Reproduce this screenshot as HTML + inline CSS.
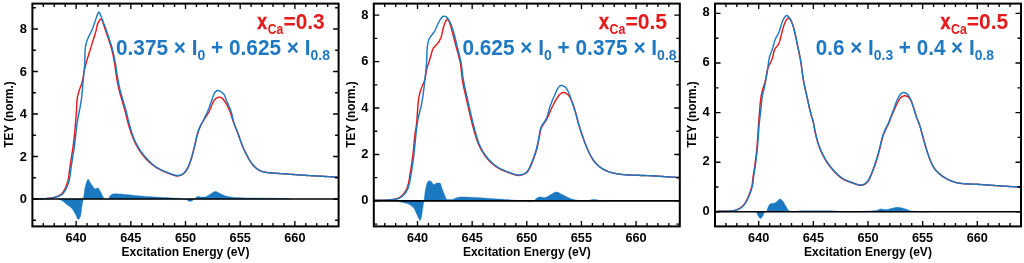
<!DOCTYPE html>
<html lang="en"><head><meta charset="utf-8"><title>XAS linear combination fits</title>
<style>html,body{margin:0;padding:0;background:#fff;}body{width:1024px;height:263px;overflow:hidden;}svg{display:block;}text{font-family:"Liberation Sans", Arial, Helvetica, sans-serif;font-weight:bold;}</style></head><body>
<svg width="1024" height="263" viewBox="0 0 1024 263">
<rect width="1024" height="263" fill="#fff"/>
<g id="panel1">
<path d="M58.3,199.0 L58.9,199.2 L59.5,199.4 L60.0,199.6 L60.6,199.9 L61.1,200.1 L61.6,200.4 L62.1,200.7 L62.6,201.0 L63.1,201.4 L63.6,201.8 L64.0,202.2 L64.5,202.6 L64.9,203.0 L65.4,203.4 L65.8,203.8 L66.3,204.1 L66.8,204.5 L67.3,204.9 L67.8,205.2 L68.3,205.6 L68.8,205.9 L69.3,206.3 L69.8,206.7 L70.2,207.0 L70.7,207.4 L71.1,207.8 L71.6,208.2 L71.9,208.6 L72.3,209.1 L72.7,209.5 L73.0,210.0 L73.3,210.5 L73.6,211.0 L73.9,211.6 L74.2,212.1 L74.5,212.6 L74.8,213.2 L75.1,213.7 L75.4,214.2 L75.7,214.8 L76.0,215.3 L76.3,215.9 L76.5,216.6 L76.8,217.3 L77.1,218.0 L77.3,218.6 L77.6,219.1 L78.0,219.4 L78.3,219.5 L78.7,219.3 L79.2,218.8 L79.6,218.3 L79.9,217.8 L80.2,217.2 L80.4,216.7 L80.5,216.1 L80.7,215.5 L80.8,214.9 L80.9,214.3 L81.0,213.7 L81.1,213.1 L81.2,212.5 L81.2,211.9 L81.3,211.3 L81.4,210.7 L81.4,210.1 L81.5,209.5 L81.6,208.9 L81.6,208.3 L81.7,207.7 L81.8,207.1 L81.9,206.6 L82.0,206.0 L82.1,205.4 L82.2,204.8 L82.3,204.2 L82.4,203.6 L82.5,203.0 L82.6,202.4 L82.8,201.8 L82.9,201.2 L83.0,200.7 L83.1,200.1 L83.2,199.5 L83.3,198.9 L83.4,198.3 L83.5,197.7 L83.6,197.1 L83.7,196.5 L83.8,195.9 L83.9,195.3 L83.9,194.7 L84.0,194.1 L84.1,193.5 L84.2,192.9 L84.3,192.4 L84.4,191.8 L84.5,191.2 L84.5,190.6 L84.6,190.0 L84.7,189.4 L84.8,188.8 L85.0,188.2 L85.1,187.6 L85.2,187.0 L85.3,186.4 L85.5,185.9 L85.6,185.3 L85.7,184.7 L85.9,184.1 L86.1,183.5 L86.3,183.0 L86.5,182.4 L86.7,181.8 L86.9,181.2 L87.2,180.5 L87.5,179.9 L87.8,179.4 L88.1,179.3 L88.4,179.4 L88.8,179.8 L89.1,180.4 L89.4,181.0 L89.7,181.7 L90.1,182.3 L90.4,182.8 L90.7,183.3 L91.0,183.8 L91.4,184.3 L91.7,184.9 L92.0,185.3 L92.4,185.8 L92.7,186.3 L93.1,186.8 L93.5,187.4 L93.9,187.9 L94.4,188.4 L94.8,188.7 L95.3,188.7 L95.9,188.6 L96.5,188.4 L97.1,188.1 L97.6,188.0 L98.1,188.1 L98.5,188.4 L98.9,188.9 L99.3,189.4 L99.6,190.0 L100.0,190.7 L100.3,191.2 L100.6,191.7 L100.9,192.2 L101.1,192.8 L101.4,193.3 L101.6,193.9 L101.9,194.4 L102.1,195.0 L102.4,195.5 L102.7,196.0 L103.0,196.6 L103.3,197.2 L103.6,197.9 L103.9,198.5 L104.3,198.9 L104.7,199.0 L105.2,199.0 L105.8,199.0 L106.5,199.0 L107.1,199.0 L107.7,199.0 L108.1,198.9 L108.5,198.6 L108.9,198.1 L109.2,197.5 L109.5,196.9 L109.8,196.2 L110.2,195.6 L110.6,195.2 L111.0,194.9 L111.5,194.6 L112.1,194.3 L112.7,194.1 L113.3,193.9 L113.9,193.8 L114.5,193.8 L115.1,193.8 L115.6,193.8 L116.2,193.8 L116.8,193.8 L117.4,193.8 L118.0,193.9 L118.6,193.9 L119.2,193.9 L119.8,194.0 L120.4,194.0 L121.0,194.1 L121.6,194.1 L122.2,194.2 L122.8,194.2 L123.4,194.3 L124.0,194.4 L124.7,194.4 L125.3,194.5 L125.9,194.5 L126.4,194.6 L127.0,194.6 L127.6,194.7 L128.2,194.7 L128.8,194.8 L129.4,194.8 L130.0,194.9 L130.6,195.0 L131.2,195.0 L131.8,195.1 L132.4,195.2 L133.0,195.2 L133.6,195.3 L134.2,195.3 L134.8,195.4 L135.4,195.5 L136.0,195.5 L136.6,195.6 L137.2,195.7 L137.8,195.7 L138.4,195.8 L139.0,195.8 L139.6,195.9 L140.2,195.9 L140.8,196.0 L141.4,196.0 L142.0,196.1 L142.6,196.1 L143.2,196.2 L143.8,196.2 L144.4,196.3 L145.0,196.3 L145.6,196.4 L146.2,196.4 L146.8,196.4 L147.4,196.5 L148.0,196.5 L148.6,196.6 L149.2,196.6 L149.8,196.6 L150.4,196.7 L151.0,196.7 L151.5,196.7 L152.1,196.8 L152.7,196.8 L153.3,196.8 L153.9,196.9 L154.5,196.9 L155.1,197.0 L155.7,197.0 L156.3,197.0 L156.9,197.1 L157.5,197.1 L158.1,197.1 L158.7,197.2 L159.3,197.2 L159.9,197.2 L160.5,197.3 L161.1,197.3 L161.7,197.3 L162.3,197.4 L162.9,197.4 L163.5,197.4 L164.1,197.5 L164.7,197.5 L165.3,197.5 L165.9,197.5 L166.5,197.6 L167.1,197.6 L167.7,197.6 L168.3,197.7 L168.9,197.7 L169.5,197.8 L170.1,197.8 L170.7,197.8 L171.3,197.9 L171.9,197.9 L172.5,197.9 L173.1,198.0 L173.7,198.0 L174.3,198.1 L174.9,198.1 L175.5,198.2 L176.1,198.2 L176.7,198.2 L177.3,198.3 L177.9,198.3 L178.5,198.4 L179.1,198.4 L179.7,198.5 L180.3,198.6 L180.9,198.6 L181.5,198.7 L182.1,198.8 L182.7,198.8 L183.3,198.9 L183.9,199.0 L184.5,199.1 L185.0,199.3 L185.6,199.4 L186.2,199.6 L186.7,199.9 L187.3,200.2 L187.9,200.5 L188.4,200.9 L188.9,201.1 L189.5,201.4 L190.0,201.5 L190.5,201.5 L191.1,201.3 L191.6,201.1 L192.1,200.8 L192.6,200.4 L193.1,199.9 L193.6,199.5 L194.1,199.1 L194.6,198.8 L195.1,198.4 L195.6,197.9 L196.1,197.5 L196.5,197.1 L197.0,196.7 L197.5,196.4 L198.0,196.3 L198.6,196.3 L199.1,196.5 L199.7,196.7 L200.3,196.9 L200.9,197.0 L201.5,197.0 L202.1,197.0 L202.7,197.0 L203.3,197.0 L203.9,197.0 L204.5,197.0 L205.1,197.0 L205.6,196.8 L206.2,196.6 L206.7,196.4 L207.2,196.1 L207.7,195.8 L208.3,195.4 L208.8,195.0 L209.3,194.7 L209.8,194.3 L210.4,194.0 L210.9,193.7 L211.4,193.4 L212.0,193.0 L212.5,192.7 L213.0,192.3 L213.6,192.0 L214.1,191.8 L214.6,191.6 L215.2,191.5 L215.7,191.5 L216.3,191.6 L216.8,191.8 L217.4,192.0 L217.9,192.3 L218.5,192.6 L219.1,192.9 L219.6,193.2 L220.2,193.5 L220.7,193.7 L221.3,194.0 L221.8,194.2 L222.4,194.5 L222.9,194.7 L223.5,195.0 L224.1,195.2 L224.6,195.4 L225.2,195.7 L225.7,195.9 L226.3,196.1 L226.9,196.2 L227.4,196.3 L228.0,196.5 L228.6,196.6 L229.2,196.7 L229.8,196.8 L230.4,196.9 L231.0,197.0 L231.6,197.1 L232.2,197.2 L232.8,197.2 L233.4,197.3 L234.0,197.4 L234.6,197.4 L235.2,197.5 L235.8,197.5 L236.4,197.5 L237.0,197.6 L237.6,197.6 L238.2,197.6 L238.7,197.7 L239.3,197.7 L239.9,197.7 L240.5,197.7 L241.1,197.7 L241.7,197.8 L242.3,197.8 L242.9,197.8 L243.5,197.8 L244.1,197.8 L244.7,197.9 L245.3,197.9 L245.9,197.9 L246.5,197.9 L247.2,197.9 L247.8,197.9 L248.4,198.0 L249.0,198.0 L249.6,198.0 L250.2,198.0 L250.8,198.0 L251.4,198.0 L252.0,198.0 L252.6,198.0 L253.2,198.0 L253.8,198.0 L254.4,198.1 L255.0,198.1 L255.6,198.1 L256.2,198.1 L256.8,198.1 L257.4,198.1 L258.0,198.1 L258.6,198.1 L259.2,198.1 L259.8,198.1 L260.4,198.1 L261.0,198.1 L261.6,198.1 L262.2,198.1 L262.8,198.1 L263.4,198.1 L264.0,198.2 L264.6,198.2 L265.2,198.2 L265.8,198.2 L266.4,198.2 L267.0,198.2 L267.6,198.2 L268.2,198.2 L268.8,198.2 L269.4,198.2 L270.0,198.2 L270.6,198.2 L271.2,198.2 L271.8,198.2 L272.4,198.2 L273.0,198.2 L273.6,198.3 L274.2,198.3 L274.8,198.3 L275.4,198.3 L276.0,198.3 L276.6,198.3 L277.1,198.3 L277.7,198.3 L278.3,198.4 L278.9,198.4 L279.5,198.4 L280.1,198.4 L280.7,198.5 L281.3,198.5 L281.9,198.5 L282.5,198.5 L283.1,198.6 L283.7,198.6 L284.3,198.6 L284.9,198.7 L285.5,198.7 L286.1,198.7 L286.7,198.8 L287.3,198.8 L287.9,198.8 L288.5,198.9 L289.1,198.9 L289.7,198.9 L290.3,199.0 L290.8,199.0 L290.8,199.0 L58.3,199.0 Z" fill="#1b79c2" stroke="#1b79c2" stroke-width="0.4"/>
<clipPath id="c0"><rect x="32.4" y="3.6" width="306.2" height="222.8"/></clipPath>
<g clip-path="url(#c0)" fill="none" stroke-linejoin="round" stroke-linecap="round">
<path d="M33.2,198.8 L33.8,198.8 L34.4,198.8 L35.0,198.8 L35.6,198.7 L36.2,198.7 L36.8,198.7 L37.4,198.7 L38.0,198.7 L38.6,198.7 L39.2,198.7 L39.8,198.7 L40.4,198.7 L41.0,198.7 L41.6,198.7 L42.2,198.7 L42.8,198.6 L43.4,198.6 L44.0,198.6 L44.6,198.6 L45.2,198.6 L45.8,198.6 L46.4,198.5 L47.0,198.5 L47.6,198.4 L48.2,198.4 L48.8,198.3 L49.4,198.3 L50.0,198.2 L50.6,198.1 L51.2,198.0 L51.8,197.9 L52.4,197.8 L52.9,197.7 L53.5,197.5 L54.1,197.4 L54.7,197.2 L55.3,197.0 L55.8,196.8 L56.4,196.6 L57.0,196.4 L57.5,196.2 L58.1,196.0 L58.6,195.8 L59.2,195.5 L59.7,195.2 L60.2,194.9 L60.7,194.6 L61.2,194.2 L61.6,193.8 L62.0,193.4 L62.4,192.9 L62.8,192.4 L63.2,191.9 L63.5,191.4 L63.8,190.9 L64.1,190.4 L64.4,189.9 L64.7,189.3 L64.9,188.8 L65.2,188.2 L65.4,187.7 L65.7,187.1 L65.9,186.6 L66.1,186.0 L66.3,185.5 L66.5,184.9 L66.7,184.3 L66.9,183.8 L67.2,183.2 L67.3,182.6 L67.5,182.1 L67.7,181.5 L67.9,180.9 L68.0,180.3 L68.2,179.7 L68.3,179.2 L68.4,178.6 L68.5,178.0 L68.6,177.4 L68.7,176.8 L68.8,176.2 L68.9,175.6 L68.9,175.0 L69.0,174.4 L69.1,173.8 L69.2,173.2 L69.2,172.6 L69.3,172.0 L69.4,171.4 L69.4,170.8 L69.5,170.2 L69.6,169.6 L69.7,169.1 L69.8,168.5 L69.8,167.9 L69.9,167.3 L70.0,166.7 L70.1,166.1 L70.2,165.5 L70.3,164.9 L70.4,164.3 L70.4,163.7 L70.5,163.1 L70.6,162.5 L70.7,161.9 L70.8,161.3 L70.9,160.7 L71.0,160.1 L71.1,159.5 L71.2,159.0 L71.3,158.4 L71.4,157.8 L71.5,157.2 L71.6,156.6 L71.7,156.0 L71.8,155.4 L71.9,154.8 L71.9,154.2 L72.0,153.6 L72.1,153.0 L72.2,152.4 L72.3,151.8 L72.4,151.3 L72.5,150.7 L72.6,150.1 L72.7,149.5 L72.8,148.9 L72.8,148.3 L72.9,147.7 L73.0,147.1 L73.1,146.5 L73.2,145.9 L73.3,145.3 L73.3,144.7 L73.4,144.1 L73.5,143.5 L73.6,142.9 L73.6,142.3 L73.7,141.8 L73.8,141.2 L73.8,140.6 L73.9,140.0 L74.0,139.4 L74.0,138.8 L74.1,138.2 L74.2,137.6 L74.2,137.0 L74.3,136.4 L74.4,135.8 L74.4,135.2 L74.5,134.6 L74.6,134.0 L74.6,133.4 L74.7,132.8 L74.7,132.2 L74.8,131.6 L74.8,131.0 L74.9,130.4 L75.0,129.8 L75.0,129.2 L75.1,128.6 L75.1,128.0 L75.2,127.4 L75.2,126.8 L75.3,126.2 L75.3,125.6 L75.4,125.0 L75.4,124.4 L75.5,123.8 L75.5,123.2 L75.6,122.6 L75.6,122.0 L75.7,121.4 L75.7,120.8 L75.8,120.2 L75.8,119.6 L75.9,119.1 L75.9,118.5 L76.0,117.9 L76.0,117.3 L76.1,116.7 L76.1,116.1 L76.1,115.5 L76.2,114.9 L76.2,114.3 L76.3,113.7 L76.3,113.1 L76.4,112.5 L76.4,111.9 L76.4,111.3 L76.5,110.7 L76.5,110.1 L76.5,109.5 L76.6,108.9 L76.6,108.3 L76.6,107.7 L76.6,107.1 L76.7,106.5 L76.7,105.9 L76.7,105.3 L76.8,104.7 L76.8,104.1 L76.8,103.5 L76.9,102.9 L76.9,102.3 L76.9,101.7 L77.0,101.1 L77.1,100.5 L77.1,99.9 L77.2,99.3 L77.3,98.7 L77.3,98.1 L77.4,97.5 L77.5,96.9 L77.7,96.3 L77.8,95.7 L77.9,95.2 L78.0,94.6 L78.2,94.0 L78.3,93.4 L78.5,92.8 L78.6,92.2 L78.8,91.7 L79.0,91.1 L79.2,90.5 L79.3,90.0 L79.6,89.4 L79.8,88.8 L80.0,88.3 L80.2,87.7 L80.4,87.1 L80.6,86.6 L80.8,86.0 L81.0,85.4 L81.2,84.9 L81.4,84.3 L81.6,83.7 L81.8,83.2 L82.0,82.6 L82.1,82.0 L82.3,81.4 L82.4,80.9 L82.5,80.3 L82.7,79.7 L82.8,79.1 L82.9,78.5 L83.0,77.9 L83.1,77.3 L83.2,76.7 L83.3,76.2 L83.4,75.6 L83.5,75.0 L83.6,74.4 L83.7,73.8 L83.8,73.2 L83.9,72.6 L84.1,72.0 L84.2,71.4 L84.3,70.8 L84.4,70.2 L84.5,69.6 L84.6,69.1 L84.8,68.5 L84.9,67.9 L85.0,67.3 L85.2,66.7 L85.3,66.1 L85.5,65.6 L85.6,65.0 L85.8,64.4 L85.9,63.8 L86.1,63.2 L86.2,62.7 L86.4,62.1 L86.6,61.5 L86.7,61.0 L86.9,60.4 L87.0,59.8 L87.2,59.3 L87.4,58.7 L87.6,58.1 L87.7,57.6 L87.9,57.0 L88.1,56.4 L88.3,55.9 L88.5,55.3 L88.6,54.8 L88.8,54.2 L89.0,53.6 L89.2,53.1 L89.3,52.5 L89.5,51.9 L89.7,51.4 L89.9,50.8 L90.0,50.2 L90.2,49.7 L90.4,49.1 L90.5,48.5 L90.7,48.0 L90.9,47.4 L91.0,46.8 L91.2,46.3 L91.4,45.7 L91.6,45.1 L91.8,44.5 L91.9,44.0 L92.1,43.4 L92.3,42.8 L92.5,42.2 L92.7,41.7 L92.8,41.1 L93.0,40.5 L93.2,39.9 L93.4,39.4 L93.6,38.8 L93.8,38.2 L94.0,37.6 L94.1,37.1 L94.3,36.5 L94.5,35.9 L94.7,35.3 L94.9,34.8 L95.0,34.2 L95.2,33.6 L95.4,33.0 L95.5,32.5 L95.7,31.9 L95.9,31.3 L96.0,30.7 L96.2,30.2 L96.3,29.6 L96.4,29.0 L96.5,28.5 L96.7,27.9 L96.8,27.3 L96.9,26.7 L97.0,26.2 L97.2,25.6 L97.3,25.0 L97.5,24.4 L97.7,23.8 L97.9,23.2 L98.2,22.7 L98.5,22.1 L98.8,21.4 L99.2,20.8 L99.6,20.2 L100.0,19.7 L100.4,19.4 L100.7,19.1 L101.1,19.1 L101.4,19.3 L101.7,19.6 L102.0,20.0 L102.2,20.5 L102.5,21.2 L102.7,21.8 L103.0,22.6 L103.2,23.3 L103.4,24.0 L103.7,24.7 L103.9,25.4 L104.1,26.1 L104.3,26.7 L104.5,27.3 L104.7,27.9 L104.9,28.5 L105.1,29.1 L105.3,29.7 L105.5,30.3 L105.7,30.9 L105.9,31.5 L106.1,32.0 L106.3,32.6 L106.5,33.1 L106.7,33.7 L106.9,34.2 L107.1,34.8 L107.3,35.3 L107.4,35.9 L107.6,36.4 L107.8,36.9 L108.0,37.5 L108.2,38.0 L108.3,38.5 L108.5,39.1 L108.7,39.6 L108.9,40.2 L109.1,40.7 L109.3,41.3 L109.4,41.8 L109.6,42.4 L109.8,42.9 L110.0,43.5 L110.2,44.1 L110.3,44.6 L110.5,45.2 L110.7,45.8 L110.9,46.4 L111.0,47.0 L111.2,47.6 L111.4,48.1 L111.5,48.7 L111.7,49.3 L111.9,49.9 L112.0,50.5 L112.2,51.1 L112.3,51.7 L112.5,52.3 L112.6,52.9 L112.7,53.5 L112.9,54.0 L113.0,54.6 L113.1,55.2 L113.2,55.8 L113.3,56.4 L113.5,57.0 L113.6,57.6 L113.7,58.2 L113.8,58.8 L113.9,59.4 L114.0,60.0 L114.1,60.6 L114.2,61.2 L114.3,61.8 L114.4,62.4 L114.5,62.9 L114.7,63.5 L114.8,64.1 L114.8,64.7 L114.9,65.3 L115.0,65.9 L115.1,66.5 L115.2,67.1 L115.2,67.7 L115.3,68.3 L115.4,68.9 L115.5,69.5 L115.6,70.1 L115.6,70.7 L115.7,71.3 L115.8,71.9 L115.9,72.5 L116.0,73.1 L116.1,73.6 L116.2,74.2 L116.2,74.8 L116.3,75.4 L116.4,76.0 L116.5,76.6 L116.6,77.2 L116.7,77.8 L116.8,78.4 L116.9,79.0 L117.0,79.6 L117.1,80.2 L117.2,80.8 L117.3,81.4 L117.4,81.9 L117.5,82.5 L117.6,83.1 L117.7,83.7 L117.9,84.3 L118.0,84.9 L118.1,85.5 L118.2,86.1 L118.4,86.6 L118.5,87.2 L118.6,87.8 L118.8,88.4 L118.9,89.0 L119.0,89.6 L119.2,90.2 L119.3,90.7 L119.5,91.3 L119.6,91.9 L119.8,92.5 L119.9,93.1 L120.1,93.6 L120.2,94.2 L120.4,94.8 L120.6,95.4 L120.7,96.0 L120.9,96.5 L121.1,97.1 L121.2,97.7 L121.4,98.3 L121.5,98.8 L121.7,99.4 L121.9,100.0 L122.0,100.6 L122.2,101.1 L122.4,101.7 L122.6,102.3 L122.7,102.9 L122.9,103.4 L123.1,104.0 L123.2,104.6 L123.4,105.2 L123.6,105.7 L123.8,106.3 L123.9,106.9 L124.1,107.5 L124.3,108.0 L124.4,108.6 L124.6,109.2 L124.7,109.8 L124.9,110.4 L125.0,110.9 L125.2,111.5 L125.3,112.1 L125.5,112.7 L125.6,113.3 L125.8,113.9 L125.9,114.4 L126.1,115.0 L126.2,115.6 L126.3,116.2 L126.5,116.8 L126.6,117.4 L126.8,117.9 L126.9,118.5 L127.1,119.1 L127.2,119.7 L127.3,120.3 L127.5,120.8 L127.6,121.4 L127.8,122.0 L128.0,122.6 L128.1,123.2 L128.3,123.7 L128.4,124.3 L128.6,124.9 L128.8,125.5 L128.9,126.1 L129.1,126.6 L129.3,127.2 L129.5,127.8 L129.6,128.3 L129.8,128.9 L130.0,129.5 L130.2,130.1 L130.4,130.6 L130.6,131.2 L130.7,131.8 L130.9,132.3 L131.1,132.9 L131.3,133.5 L131.5,134.0 L131.8,134.6 L132.0,135.2 L132.2,135.7 L132.4,136.3 L132.6,136.8 L132.8,137.4 L133.1,138.0 L133.3,138.5 L133.5,139.1 L133.8,139.6 L134.0,140.2 L134.2,140.7 L134.5,141.3 L134.7,141.8 L135.0,142.4 L135.2,142.9 L135.5,143.4 L135.8,144.0 L136.0,144.5 L136.3,145.0 L136.6,145.6 L136.9,146.1 L137.2,146.6 L137.5,147.1 L137.8,147.7 L138.1,148.2 L138.4,148.7 L138.7,149.2 L139.0,149.7 L139.4,150.2 L139.7,150.7 L140.0,151.2 L140.4,151.7 L140.7,152.2 L141.0,152.7 L141.4,153.2 L141.8,153.7 L142.1,154.2 L142.5,154.7 L142.9,155.1 L143.2,155.6 L143.6,156.1 L144.0,156.5 L144.4,157.0 L144.8,157.5 L145.2,157.9 L145.6,158.3 L146.0,158.8 L146.4,159.2 L146.8,159.7 L147.2,160.1 L147.6,160.5 L148.1,161.0 L148.5,161.4 L148.9,161.8 L149.4,162.2 L149.8,162.6 L150.3,163.0 L150.8,163.4 L151.2,163.8 L151.7,164.2 L152.2,164.6 L152.6,164.9 L153.1,165.3 L153.6,165.7 L154.1,166.0 L154.6,166.4 L155.1,166.7 L155.5,167.0 L156.0,167.3 L156.5,167.7 L157.1,168.0 L157.6,168.3 L158.1,168.6 L158.6,168.8 L159.1,169.1 L159.6,169.4 L160.2,169.7 L160.7,170.0 L161.2,170.2 L161.8,170.5 L162.3,170.7 L162.9,171.0 L163.4,171.2 L164.0,171.5 L164.5,171.7 L165.1,172.0 L165.7,172.2 L166.2,172.4 L166.8,172.7 L167.3,172.9 L167.9,173.1 L168.5,173.3 L169.0,173.5 L169.6,173.7 L170.2,174.0 L170.7,174.2 L171.3,174.4 L171.9,174.6 L172.5,174.8 L173.0,175.0 L173.6,175.2 L174.2,175.4 L174.8,175.5 L175.4,175.7 L176.0,175.8 L176.5,175.9 L177.1,175.9 L177.7,175.9 L178.3,175.9 L178.9,175.8 L179.5,175.6 L180.1,175.4 L180.7,175.2 L181.2,175.0 L181.8,174.8 L182.3,174.5 L182.8,174.2 L183.3,173.8 L183.8,173.5 L184.2,173.0 L184.7,172.6 L185.1,172.1 L185.5,171.7 L185.8,171.2 L186.2,170.7 L186.5,170.3 L186.8,169.8 L187.1,169.3 L187.4,168.8 L187.7,168.2 L188.0,167.7 L188.2,167.2 L188.5,166.6 L188.7,166.1 L189.0,165.5 L189.2,164.9 L189.4,164.4 L189.6,163.8 L189.8,163.2 L190.0,162.6 L190.2,162.1 L190.4,161.5 L190.6,160.9 L190.8,160.3 L191.0,159.7 L191.2,159.1 L191.3,158.6 L191.5,158.0 L191.7,157.4 L191.8,156.8 L192.0,156.3 L192.2,155.7 L192.3,155.1 L192.5,154.5 L192.7,153.9 L192.8,153.4 L193.0,152.8 L193.1,152.2 L193.3,151.6 L193.4,151.0 L193.6,150.5 L193.7,149.9 L193.9,149.3 L194.0,148.7 L194.2,148.1 L194.3,147.6 L194.4,147.0 L194.6,146.4 L194.7,145.8 L194.9,145.2 L195.0,144.6 L195.1,144.1 L195.3,143.5 L195.4,142.9 L195.5,142.3 L195.7,141.7 L195.8,141.1 L195.9,140.5 L196.1,140.0 L196.2,139.4 L196.3,138.8 L196.5,138.2 L196.6,137.6 L196.8,137.0 L196.9,136.5 L197.1,135.9 L197.2,135.3 L197.4,134.7 L197.5,134.1 L197.7,133.6 L197.9,133.0 L198.0,132.4 L198.2,131.8 L198.4,131.3 L198.6,130.7 L198.8,130.1 L199.0,129.6 L199.2,129.0 L199.4,128.5 L199.7,127.9 L199.9,127.3 L200.2,126.8 L200.4,126.3 L200.7,125.7 L200.9,125.2 L201.2,124.6 L201.5,124.1 L201.8,123.6 L202.1,123.1 L202.4,122.5 L202.7,122.0 L203.0,121.5 L203.3,121.0 L203.6,120.5 L203.9,120.0 L204.2,119.5 L204.5,118.9 L204.9,118.4 L205.2,117.9 L205.5,117.4 L205.8,116.9 L206.1,116.4 L206.5,115.9 L206.8,115.4 L207.1,114.9 L207.4,114.4 L207.7,113.8 L208.0,113.3 L208.3,112.8 L208.6,112.3 L208.9,111.8 L209.2,111.2 L209.5,110.7 L209.7,110.2 L210.0,109.6 L210.2,109.1 L210.5,108.5 L210.7,107.9 L210.9,107.4 L211.1,106.8 L211.3,106.2 L211.6,105.7 L211.8,105.1 L212.0,104.6 L212.2,104.0 L212.5,103.4 L212.7,102.9 L213.0,102.4 L213.3,101.8 L213.6,101.3 L213.9,100.8 L214.2,100.4 L214.6,99.9 L215.0,99.4 L215.4,99.0 L215.8,98.6 L216.3,98.2 L216.8,97.9 L217.4,97.6 L217.9,97.3 L218.5,97.1 L219.1,97.1 L219.7,97.2 L220.3,97.3 L220.9,97.5 L221.4,97.8 L221.9,98.1 L222.4,98.4 L222.8,98.8 L223.2,99.3 L223.6,99.7 L224.0,100.2 L224.3,100.7 L224.7,101.3 L225.0,101.8 L225.3,102.3 L225.6,102.8 L226.0,103.3 L226.3,103.8 L226.6,104.4 L226.9,104.9 L227.2,105.4 L227.4,105.9 L227.7,106.5 L228.0,107.0 L228.3,107.5 L228.5,108.1 L228.8,108.6 L229.0,109.2 L229.3,109.7 L229.5,110.3 L229.7,110.8 L229.9,111.4 L230.2,111.9 L230.4,112.5 L230.6,113.0 L230.8,113.6 L230.9,114.2 L231.1,114.8 L231.3,115.3 L231.5,115.9 L231.7,116.5 L231.8,117.1 L232.0,117.6 L232.2,118.2 L232.4,118.8 L232.6,119.4 L232.7,119.9 L232.9,120.5 L233.1,121.1 L233.3,121.6 L233.5,122.2 L233.7,122.8 L233.9,123.3 L234.1,123.9 L234.3,124.5 L234.6,125.0 L234.8,125.6 L235.0,126.1 L235.2,126.7 L235.5,127.2 L235.7,127.8 L235.9,128.3 L236.2,128.9 L236.4,129.5 L236.6,130.0 L236.8,130.6 L237.1,131.1 L237.3,131.7 L237.5,132.2 L237.7,132.8 L237.9,133.4 L238.1,133.9 L238.3,134.5 L238.5,135.1 L238.7,135.6 L238.9,136.2 L239.1,136.8 L239.3,137.3 L239.5,137.9 L239.7,138.5 L239.9,139.0 L240.1,139.6 L240.3,140.2 L240.5,140.7 L240.7,141.3 L240.9,141.9 L241.1,142.4 L241.3,143.0 L241.5,143.5 L241.7,144.1 L242.0,144.7 L242.2,145.2 L242.4,145.8 L242.6,146.3 L242.9,146.9 L243.1,147.4 L243.3,148.0 L243.6,148.5 L243.8,149.1 L244.1,149.6 L244.3,150.2 L244.6,150.7 L244.8,151.3 L245.1,151.8 L245.4,152.3 L245.6,152.9 L245.9,153.4 L246.2,154.0 L246.4,154.5 L246.7,155.0 L247.0,155.6 L247.3,156.1 L247.6,156.6 L247.8,157.2 L248.1,157.7 L248.4,158.2 L248.7,158.8 L249.0,159.3 L249.3,159.8 L249.6,160.3 L249.9,160.9 L250.3,161.4 L250.6,161.9 L250.9,162.4 L251.3,162.9 L251.6,163.3 L252.0,163.8 L252.4,164.3 L252.7,164.7 L253.1,165.2 L253.5,165.6 L254.0,166.0 L254.4,166.5 L254.8,166.9 L255.3,167.3 L255.8,167.7 L256.2,168.1 L256.7,168.5 L257.2,168.9 L257.7,169.3 L258.2,169.6 L258.7,169.9 L259.2,170.3 L259.8,170.5 L260.3,170.8 L260.8,171.0 L261.4,171.3 L261.9,171.4 L262.5,171.6 L263.0,171.8 L263.6,171.9 L264.2,172.0 L264.7,172.2 L265.3,172.3 L265.9,172.4 L266.5,172.5 L267.1,172.5 L267.7,172.6 L268.3,172.7 L268.9,172.8 L269.5,172.8 L270.1,172.9 L270.7,172.9 L271.3,173.0 L271.9,173.0 L272.6,173.0 L273.2,173.1 L273.8,173.1 L274.4,173.2 L275.0,173.2 L275.6,173.2 L276.2,173.3 L276.8,173.3 L277.4,173.4 L278.0,173.4 L278.6,173.4 L279.2,173.5 L279.8,173.5 L280.4,173.6 L281.0,173.6 L281.6,173.6 L282.2,173.7 L282.8,173.7 L283.4,173.8 L284.0,173.8 L284.6,173.8 L285.2,173.9 L285.8,173.9 L286.4,174.0 L287.0,174.0 L287.6,174.1 L288.2,174.1 L288.8,174.1 L289.4,174.2 L290.0,174.2 L290.6,174.3 L291.2,174.3 L291.8,174.4 L292.4,174.4 L293.0,174.4 L293.6,174.5 L294.2,174.5 L294.8,174.6 L295.4,174.6 L296.0,174.7 L296.6,174.7 L297.2,174.7 L297.8,174.8 L298.4,174.8 L299.0,174.9 L299.6,174.9 L300.2,175.0 L300.7,175.0 L301.3,175.0 L301.9,175.1 L302.5,175.1 L303.1,175.2 L303.7,175.2 L304.3,175.2 L304.9,175.3 L305.5,175.3 L306.1,175.4 L306.7,175.4 L307.3,175.4 L307.9,175.5 L308.5,175.5 L309.1,175.5 L309.7,175.6 L310.3,175.6 L310.9,175.6 L311.5,175.7 L312.1,175.7 L312.7,175.7 L313.3,175.8 L313.9,175.8 L314.5,175.8 L315.1,175.9 L315.7,175.9 L316.3,175.9 L316.9,176.0 L317.5,176.0 L318.1,176.0 L318.7,176.1 L319.3,176.1 L319.9,176.1 L320.5,176.2 L321.1,176.2 L321.7,176.2 L322.3,176.3 L322.9,176.3 L323.5,176.3 L324.1,176.4 L324.7,176.4 L325.3,176.4 L325.9,176.5 L326.5,176.5 L327.1,176.5 L327.7,176.6 L328.3,176.6 L328.9,176.6 L329.5,176.6 L330.1,176.7 L330.7,176.7 L331.3,176.7 L331.9,176.8 L332.5,176.8 L333.1,176.8 L333.7,176.9 L334.3,176.9 L334.9,176.9 L335.5,177.0 L336.1,177.0 L336.7,177.1 L337.3,177.1 L337.9,177.1 L338.5,177.2 L338.6,177.2 L338.6,177.2" stroke="#e41a1c" stroke-width="1.45"/>
<path d="M33.2,198.8 L33.8,198.8 L34.4,198.8 L35.0,198.7 L35.6,198.7 L36.2,198.7 L36.8,198.7 L37.4,198.7 L38.0,198.7 L38.6,198.7 L39.2,198.7 L39.8,198.7 L40.4,198.7 L41.0,198.7 L41.6,198.7 L42.2,198.7 L42.8,198.7 L43.4,198.7 L44.0,198.6 L44.6,198.6 L45.2,198.6 L45.8,198.6 L46.4,198.6 L47.0,198.6 L47.6,198.5 L48.2,198.5 L48.8,198.4 L49.4,198.4 L50.0,198.3 L50.6,198.2 L51.2,198.2 L51.8,198.1 L52.4,198.0 L53.0,197.9 L53.5,197.8 L54.1,197.6 L54.7,197.5 L55.3,197.3 L55.9,197.1 L56.4,197.0 L57.0,196.8 L57.6,196.6 L58.1,196.4 L58.7,196.2 L59.3,195.9 L59.8,195.7 L60.4,195.4 L60.9,195.1 L61.4,194.8 L61.9,194.4 L62.3,194.1 L62.8,193.7 L63.2,193.2 L63.6,192.7 L63.9,192.3 L64.3,191.8 L64.6,191.3 L65.0,190.8 L65.3,190.2 L65.6,189.7 L65.8,189.2 L66.1,188.7 L66.4,188.1 L66.6,187.6 L66.9,187.0 L67.1,186.5 L67.3,185.9 L67.6,185.4 L67.8,184.8 L68.0,184.2 L68.2,183.7 L68.4,183.1 L68.6,182.5 L68.8,182.0 L68.9,181.4 L69.1,180.8 L69.2,180.2 L69.4,179.6 L69.5,179.1 L69.6,178.5 L69.7,177.9 L69.8,177.3 L69.9,176.7 L70.0,176.1 L70.1,175.5 L70.2,174.9 L70.3,174.3 L70.3,173.7 L70.4,173.1 L70.5,172.5 L70.6,171.9 L70.6,171.3 L70.7,170.7 L70.8,170.1 L70.9,169.5 L70.9,168.9 L71.0,168.4 L71.1,167.8 L71.2,167.2 L71.3,166.6 L71.4,166.0 L71.5,165.4 L71.5,164.8 L71.6,164.2 L71.7,163.6 L71.8,163.0 L71.9,162.4 L72.0,161.8 L72.1,161.2 L72.2,160.6 L72.3,160.0 L72.4,159.4 L72.5,158.9 L72.6,158.3 L72.7,157.7 L72.8,157.1 L72.8,156.5 L72.9,155.9 L73.0,155.3 L73.1,154.7 L73.2,154.1 L73.3,153.5 L73.4,152.9 L73.5,152.3 L73.6,151.7 L73.7,151.2 L73.8,150.6 L73.9,150.0 L73.9,149.4 L74.0,148.8 L74.1,148.2 L74.2,147.6 L74.3,147.0 L74.4,146.4 L74.4,145.8 L74.5,145.2 L74.6,144.6 L74.7,144.0 L74.8,143.4 L74.8,142.8 L74.9,142.2 L75.0,141.6 L75.0,141.0 L75.1,140.5 L75.2,139.9 L75.2,139.3 L75.3,138.7 L75.4,138.1 L75.4,137.5 L75.5,136.9 L75.6,136.3 L75.6,135.7 L75.7,135.1 L75.8,134.5 L75.8,133.9 L75.9,133.3 L75.9,132.7 L76.0,132.1 L76.1,131.5 L76.1,130.9 L76.2,130.3 L76.3,129.7 L76.4,129.1 L76.4,128.5 L76.5,127.9 L76.6,127.3 L76.6,126.7 L76.7,126.1 L76.8,125.5 L76.9,124.9 L77.0,124.4 L77.0,123.8 L77.1,123.2 L77.2,122.6 L77.3,122.0 L77.4,121.4 L77.5,120.8 L77.6,120.2 L77.7,119.6 L77.8,119.0 L77.9,118.4 L78.0,117.8 L78.1,117.3 L78.2,116.7 L78.4,116.1 L78.5,115.5 L78.6,114.9 L78.7,114.3 L78.8,113.7 L78.9,113.1 L79.1,112.5 L79.2,112.0 L79.3,111.4 L79.4,110.8 L79.5,110.2 L79.6,109.6 L79.7,109.0 L79.9,108.4 L80.0,107.8 L80.1,107.2 L80.2,106.6 L80.3,106.1 L80.4,105.5 L80.5,104.9 L80.6,104.3 L80.7,103.7 L80.8,103.1 L80.9,102.5 L81.0,101.9 L81.1,101.3 L81.2,100.7 L81.3,100.1 L81.4,99.5 L81.4,99.0 L81.5,98.4 L81.6,97.8 L81.7,97.2 L81.7,96.6 L81.8,96.0 L81.9,95.4 L81.9,94.8 L82.0,94.2 L82.0,93.6 L82.1,93.0 L82.1,92.4 L82.2,91.8 L82.3,91.2 L82.3,90.6 L82.4,90.0 L82.4,89.4 L82.5,88.8 L82.5,88.2 L82.6,87.6 L82.6,87.0 L82.7,86.4 L82.7,85.8 L82.8,85.2 L82.8,84.6 L82.9,84.0 L82.9,83.4 L83.0,82.8 L83.0,82.2 L83.1,81.6 L83.2,81.0 L83.2,80.4 L83.3,79.8 L83.3,79.2 L83.4,78.6 L83.4,78.0 L83.5,77.4 L83.5,76.8 L83.6,76.3 L83.6,75.7 L83.7,75.1 L83.7,74.5 L83.8,73.9 L83.9,73.3 L83.9,72.7 L84.0,72.1 L84.0,71.5 L84.1,70.9 L84.1,70.3 L84.2,69.7 L84.3,69.1 L84.3,68.5 L84.4,67.9 L84.4,67.3 L84.5,66.7 L84.6,66.1 L84.6,65.5 L84.7,64.9 L84.7,64.3 L84.8,63.7 L84.8,63.1 L84.8,62.5 L84.8,61.9 L84.8,61.3 L84.9,60.7 L84.9,60.1 L84.9,59.5 L84.9,58.9 L84.9,58.3 L84.9,57.7 L84.9,57.1 L84.9,56.5 L84.9,55.9 L84.9,55.3 L84.9,54.7 L84.9,54.1 L85.0,53.5 L85.0,52.9 L85.0,52.3 L85.0,51.7 L85.0,51.1 L85.1,50.5 L85.1,49.9 L85.1,49.4 L85.2,48.8 L85.3,48.2 L85.3,47.6 L85.4,47.0 L85.6,46.4 L85.7,45.8 L85.8,45.2 L85.9,44.6 L86.1,44.0 L86.2,43.4 L86.4,42.9 L86.5,42.3 L86.7,41.7 L86.9,41.1 L87.1,40.6 L87.3,40.0 L87.5,39.5 L87.7,38.9 L87.9,38.3 L88.2,37.8 L88.4,37.2 L88.7,36.7 L88.9,36.2 L89.2,35.6 L89.4,35.1 L89.7,34.5 L90.0,34.0 L90.3,33.5 L90.6,32.9 L90.8,32.4 L91.1,31.9 L91.4,31.3 L91.6,30.8 L91.9,30.3 L92.1,29.7 L92.4,29.1 L92.6,28.6 L92.8,28.0 L93.0,27.4 L93.2,26.9 L93.4,26.3 L93.6,25.7 L93.8,25.1 L94.0,24.6 L94.2,24.0 L94.4,23.4 L94.6,22.8 L94.7,22.3 L94.9,21.7 L95.1,21.2 L95.3,20.6 L95.5,20.1 L95.7,19.5 L95.8,19.0 L96.0,18.4 L96.2,17.9 L96.4,17.3 L96.6,16.8 L96.8,16.2 L97.0,15.6 L97.3,15.0 L97.5,14.4 L97.8,13.7 L98.1,13.1 L98.5,12.5 L98.8,12.2 L99.1,12.3 L99.4,12.7 L99.8,13.3 L100.1,13.9 L100.3,14.6 L100.6,15.2 L100.9,15.8 L101.1,16.4 L101.3,16.9 L101.5,17.5 L101.7,18.0 L101.9,18.6 L102.1,19.1 L102.4,19.6 L102.6,20.2 L102.8,20.7 L103.0,21.2 L103.2,21.8 L103.4,22.3 L103.6,22.9 L103.8,23.4 L104.0,24.0 L104.3,24.6 L104.5,25.1 L104.7,25.7 L104.9,26.3 L105.1,26.8 L105.3,27.4 L105.5,28.0 L105.7,28.6 L105.9,29.1 L106.1,29.7 L106.3,30.3 L106.5,30.8 L106.7,31.4 L106.9,32.0 L107.1,32.6 L107.3,33.1 L107.5,33.7 L107.7,34.3 L107.9,34.8 L108.1,35.4 L108.3,36.0 L108.5,36.5 L108.7,37.1 L108.9,37.7 L109.0,38.2 L109.2,38.8 L109.4,39.4 L109.6,39.9 L109.8,40.5 L109.9,41.1 L110.1,41.7 L110.3,42.2 L110.5,42.8 L110.7,43.4 L110.8,44.0 L111.0,44.5 L111.2,45.1 L111.4,45.7 L111.5,46.3 L111.7,46.8 L111.9,47.4 L112.0,48.0 L112.2,48.6 L112.4,49.2 L112.5,49.7 L112.7,50.3 L112.8,50.9 L113.0,51.5 L113.1,52.1 L113.3,52.7 L113.4,53.3 L113.5,53.9 L113.7,54.4 L113.8,55.0 L113.9,55.6 L114.0,56.2 L114.2,56.8 L114.3,57.4 L114.4,58.0 L114.5,58.6 L114.6,59.2 L114.7,59.8 L114.8,60.4 L115.0,61.0 L115.1,61.6 L115.2,62.2 L115.3,62.8 L115.4,63.4 L115.5,64.0 L115.6,64.5 L115.7,65.1 L115.8,65.7 L115.9,66.3 L116.0,66.9 L116.1,67.5 L116.1,68.1 L116.2,68.7 L116.3,69.3 L116.4,69.9 L116.5,70.5 L116.6,71.1 L116.7,71.7 L116.8,72.3 L116.9,72.9 L116.9,73.5 L117.0,74.1 L117.1,74.6 L117.2,75.2 L117.3,75.8 L117.4,76.4 L117.5,77.0 L117.6,77.6 L117.7,78.2 L117.8,78.8 L117.9,79.4 L118.0,80.0 L118.1,80.6 L118.2,81.1 L118.4,81.7 L118.5,82.3 L118.6,82.9 L118.7,83.5 L118.8,84.1 L118.9,84.7 L119.1,85.3 L119.2,85.8 L119.3,86.4 L119.4,87.0 L119.6,87.6 L119.7,88.2 L119.9,88.8 L120.0,89.4 L120.1,89.9 L120.3,90.5 L120.4,91.1 L120.6,91.7 L120.7,92.3 L120.9,92.8 L121.0,93.4 L121.2,94.0 L121.4,94.6 L121.5,95.2 L121.7,95.7 L121.8,96.3 L122.0,96.9 L122.2,97.5 L122.3,98.1 L122.5,98.6 L122.6,99.2 L122.8,99.8 L123.0,100.4 L123.1,100.9 L123.3,101.5 L123.5,102.1 L123.7,102.7 L123.8,103.2 L124.0,103.8 L124.2,104.4 L124.4,105.0 L124.5,105.5 L124.7,106.1 L124.9,106.7 L125.0,107.3 L125.2,107.8 L125.4,108.4 L125.5,109.0 L125.7,109.6 L125.8,110.2 L126.0,110.7 L126.1,111.3 L126.3,111.9 L126.4,112.5 L126.6,113.1 L126.7,113.6 L126.9,114.2 L127.0,114.8 L127.2,115.4 L127.3,116.0 L127.4,116.6 L127.6,117.1 L127.7,117.7 L127.9,118.3 L128.0,118.9 L128.2,119.5 L128.3,120.0 L128.5,120.6 L128.6,121.2 L128.7,121.8 L128.9,122.4 L129.0,123.0 L129.2,123.5 L129.4,124.1 L129.5,124.7 L129.7,125.3 L129.8,125.9 L130.0,126.4 L130.1,127.0 L130.3,127.6 L130.5,128.2 L130.6,128.7 L130.8,129.3 L131.0,129.9 L131.1,130.5 L131.3,131.0 L131.5,131.6 L131.7,132.2 L131.9,132.8 L132.1,133.3 L132.3,133.9 L132.5,134.5 L132.7,135.0 L132.9,135.6 L133.1,136.2 L133.3,136.7 L133.5,137.3 L133.7,137.8 L134.0,138.4 L134.2,139.0 L134.4,139.5 L134.7,140.1 L134.9,140.6 L135.2,141.2 L135.4,141.7 L135.7,142.3 L135.9,142.8 L136.2,143.3 L136.5,143.9 L136.7,144.4 L137.0,144.9 L137.3,145.4 L137.6,146.0 L137.9,146.5 L138.2,147.0 L138.5,147.5 L138.8,148.0 L139.1,148.5 L139.4,149.1 L139.8,149.6 L140.1,150.1 L140.4,150.6 L140.8,151.1 L141.1,151.6 L141.5,152.1 L141.8,152.5 L142.2,153.0 L142.5,153.5 L142.9,154.0 L143.3,154.5 L143.7,154.9 L144.0,155.4 L144.4,155.9 L144.8,156.3 L145.2,156.8 L145.6,157.2 L146.0,157.7 L146.4,158.1 L146.8,158.6 L147.2,159.0 L147.6,159.5 L148.0,159.9 L148.4,160.3 L148.8,160.8 L149.3,161.2 L149.7,161.6 L150.2,162.1 L150.6,162.5 L151.0,162.9 L151.5,163.3 L151.9,163.7 L152.4,164.1 L152.9,164.5 L153.3,164.8 L153.8,165.2 L154.3,165.6 L154.8,165.9 L155.2,166.3 L155.7,166.6 L156.2,167.0 L156.7,167.3 L157.2,167.6 L157.7,167.9 L158.2,168.2 L158.7,168.5 L159.3,168.8 L159.8,169.1 L160.3,169.4 L160.8,169.6 L161.4,169.9 L161.9,170.2 L162.5,170.4 L163.0,170.7 L163.6,170.9 L164.1,171.2 L164.7,171.4 L165.2,171.6 L165.8,171.9 L166.4,172.1 L166.9,172.3 L167.5,172.5 L168.0,172.7 L168.6,173.0 L169.2,173.2 L169.8,173.4 L170.3,173.6 L170.9,173.8 L171.5,174.0 L172.0,174.2 L172.6,174.4 L173.2,174.6 L173.8,174.8 L174.4,175.0 L174.9,175.1 L175.5,175.3 L176.1,175.4 L176.7,175.4 L177.3,175.5 L177.9,175.5 L178.5,175.5 L179.1,175.4 L179.7,175.2 L180.3,175.1 L180.9,174.9 L181.4,174.6 L182.0,174.4 L182.5,174.1 L183.0,173.8 L183.4,173.4 L183.9,173.0 L184.3,172.6 L184.7,172.1 L185.1,171.7 L185.5,171.2 L185.9,170.7 L186.2,170.2 L186.5,169.7 L186.8,169.2 L187.1,168.7 L187.4,168.2 L187.7,167.7 L188.0,167.1 L188.2,166.6 L188.5,166.0 L188.7,165.5 L189.0,164.9 L189.2,164.4 L189.4,163.8 L189.7,163.2 L189.9,162.7 L190.1,162.1 L190.3,161.5 L190.5,160.9 L190.7,160.4 L190.9,159.8 L191.1,159.2 L191.2,158.6 L191.4,158.1 L191.6,157.5 L191.8,156.9 L191.9,156.3 L192.1,155.8 L192.3,155.2 L192.4,154.6 L192.6,154.0 L192.7,153.5 L192.9,152.9 L193.0,152.3 L193.2,151.7 L193.3,151.1 L193.5,150.5 L193.6,150.0 L193.8,149.4 L193.9,148.8 L194.0,148.2 L194.2,147.6 L194.3,147.0 L194.5,146.5 L194.6,145.9 L194.7,145.3 L194.9,144.7 L195.0,144.1 L195.1,143.5 L195.3,142.9 L195.4,142.4 L195.5,141.8 L195.7,141.2 L195.8,140.6 L195.9,140.0 L196.0,139.4 L196.2,138.8 L196.3,138.3 L196.4,137.7 L196.6,137.1 L196.7,136.5 L196.9,135.9 L197.0,135.3 L197.2,134.8 L197.3,134.2 L197.5,133.6 L197.6,133.0 L197.8,132.5 L198.0,131.9 L198.2,131.3 L198.4,130.7 L198.6,130.2 L198.8,129.6 L199.0,129.1 L199.2,128.5 L199.5,127.9 L199.7,127.4 L199.9,126.8 L200.2,126.3 L200.4,125.7 L200.7,125.2 L201.0,124.7 L201.2,124.1 L201.5,123.6 L201.8,123.1 L202.1,122.6 L202.4,122.0 L202.7,121.5 L203.0,121.0 L203.3,120.5 L203.5,119.9 L203.8,119.4 L204.1,118.9 L204.4,118.3 L204.6,117.8 L204.9,117.2 L205.2,116.7 L205.4,116.2 L205.7,115.6 L206.0,115.1 L206.2,114.5 L206.5,114.0 L206.7,113.5 L207.0,112.9 L207.2,112.4 L207.4,111.8 L207.7,111.3 L207.9,110.7 L208.1,110.1 L208.4,109.6 L208.6,109.0 L208.8,108.5 L209.0,107.9 L209.2,107.4 L209.4,106.8 L209.6,106.2 L209.8,105.7 L210.0,105.1 L210.2,104.5 L210.4,104.0 L210.6,103.4 L210.8,102.8 L211.0,102.3 L211.2,101.7 L211.4,101.1 L211.6,100.6 L211.8,100.0 L212.0,99.4 L212.2,98.9 L212.4,98.3 L212.6,97.7 L212.8,97.2 L213.0,96.6 L213.2,96.0 L213.4,95.5 L213.6,94.9 L213.9,94.3 L214.1,93.8 L214.4,93.2 L214.7,92.7 L215.0,92.3 L215.4,91.8 L215.9,91.4 L216.4,91.0 L217.0,90.7 L217.5,90.5 L218.1,90.5 L218.6,90.6 L219.2,90.8 L219.8,91.1 L220.3,91.4 L220.9,91.7 L221.4,92.1 L221.9,92.4 L222.4,92.8 L222.8,93.2 L223.3,93.6 L223.7,94.1 L224.0,94.5 L224.3,95.0 L224.6,95.5 L224.9,96.1 L225.1,96.6 L225.3,97.2 L225.5,97.8 L225.7,98.3 L225.9,98.9 L226.1,99.5 L226.3,100.1 L226.6,100.6 L226.8,101.2 L227.0,101.8 L227.3,102.3 L227.5,102.9 L227.8,103.4 L228.0,103.9 L228.3,104.5 L228.5,105.0 L228.8,105.6 L229.0,106.1 L229.3,106.7 L229.5,107.2 L229.7,107.8 L230.0,108.3 L230.2,108.9 L230.4,109.4 L230.6,110.0 L230.8,110.6 L231.0,111.1 L231.1,111.7 L231.3,112.3 L231.4,112.8 L231.6,113.4 L231.7,114.0 L231.9,114.6 L232.0,115.2 L232.1,115.8 L232.3,116.4 L232.4,116.9 L232.5,117.5 L232.7,118.1 L232.8,118.7 L232.9,119.3 L233.1,119.9 L233.2,120.5 L233.4,121.0 L233.5,121.6 L233.7,122.2 L233.9,122.8 L234.1,123.3 L234.3,123.9 L234.5,124.5 L234.7,125.0 L234.9,125.6 L235.1,126.2 L235.3,126.7 L235.6,127.3 L235.8,127.8 L236.0,128.4 L236.2,128.9 L236.5,129.5 L236.7,130.0 L236.9,130.6 L237.2,131.2 L237.4,131.7 L237.6,132.3 L237.8,132.8 L238.0,133.4 L238.2,134.0 L238.5,134.5 L238.7,135.1 L238.9,135.7 L239.1,136.2 L239.2,136.8 L239.4,137.4 L239.6,137.9 L239.8,138.5 L240.0,139.1 L240.2,139.6 L240.4,140.2 L240.6,140.8 L240.8,141.3 L241.0,141.9 L241.2,142.5 L241.4,143.0 L241.6,143.6 L241.9,144.1 L242.1,144.7 L242.3,145.2 L242.5,145.8 L242.8,146.4 L243.0,146.9 L243.2,147.5 L243.5,148.0 L243.7,148.6 L243.9,149.1 L244.2,149.7 L244.4,150.2 L244.7,150.8 L245.0,151.3 L245.2,151.8 L245.5,152.4 L245.7,152.9 L246.0,153.5 L246.3,154.0 L246.6,154.5 L246.8,155.1 L247.1,155.6 L247.4,156.1 L247.7,156.7 L248.0,157.2 L248.2,157.7 L248.5,158.3 L248.8,158.8 L249.1,159.3 L249.4,159.8 L249.7,160.4 L250.1,160.9 L250.4,161.4 L250.7,161.9 L251.1,162.4 L251.4,162.9 L251.8,163.4 L252.1,163.8 L252.5,164.3 L252.9,164.7 L253.3,165.2 L253.7,165.6 L254.1,166.1 L254.5,166.5 L255.0,166.9 L255.4,167.3 L255.9,167.8 L256.3,168.2 L256.8,168.6 L257.3,168.9 L257.8,169.3 L258.3,169.7 L258.8,170.0 L259.4,170.3 L259.9,170.6 L260.4,170.8 L260.9,171.1 L261.5,171.3 L262.0,171.5 L262.6,171.6 L263.1,171.8 L263.7,171.9 L264.3,172.1 L264.8,172.2 L265.4,172.3 L266.0,172.4 L266.6,172.5 L267.2,172.6 L267.8,172.6 L268.4,172.7 L269.0,172.8 L269.6,172.8 L270.2,172.9 L270.8,172.9 L271.4,173.0 L272.1,173.0 L272.7,173.1 L273.3,173.1 L273.9,173.1 L274.5,173.2 L275.1,173.2 L275.7,173.2 L276.3,173.3 L276.9,173.3 L277.5,173.4 L278.1,173.4 L278.7,173.4 L279.3,173.5 L279.9,173.5 L280.5,173.6 L281.1,173.6 L281.7,173.6 L282.3,173.7 L282.9,173.7 L283.5,173.8 L284.1,173.8 L284.7,173.8 L285.3,173.9 L285.9,173.9 L286.5,174.0 L287.1,174.0 L287.7,174.1 L288.3,174.1 L288.9,174.1 L289.5,174.2 L290.1,174.2 L290.7,174.3 L291.3,174.3 L291.9,174.4 L292.5,174.4 L293.1,174.5 L293.7,174.5 L294.3,174.5 L294.9,174.6 L295.5,174.6 L296.1,174.7 L296.7,174.7 L297.3,174.8 L297.9,174.8 L298.5,174.8 L299.1,174.9 L299.7,174.9 L300.3,175.0 L300.9,175.0 L301.5,175.0 L302.1,175.1 L302.7,175.1 L303.2,175.2 L303.8,175.2 L304.4,175.2 L305.0,175.3 L305.6,175.3 L306.2,175.4 L306.8,175.4 L307.4,175.4 L308.0,175.5 L308.6,175.5 L309.2,175.5 L309.8,175.6 L310.4,175.6 L311.0,175.6 L311.6,175.7 L312.2,175.7 L312.8,175.8 L313.4,175.8 L314.0,175.8 L314.6,175.9 L315.2,175.9 L315.8,175.9 L316.4,176.0 L317.0,176.0 L317.6,176.0 L318.2,176.0 L318.8,176.1 L319.4,176.1 L320.0,176.1 L320.6,176.2 L321.2,176.2 L321.8,176.2 L322.4,176.3 L323.0,176.3 L323.6,176.3 L324.2,176.4 L324.8,176.4 L325.4,176.4 L326.0,176.5 L326.6,176.5 L327.2,176.5 L327.8,176.6 L328.4,176.6 L329.0,176.6 L329.6,176.7 L330.2,176.7 L330.8,176.7 L331.4,176.8 L332.0,176.8 L332.6,176.8 L333.2,176.9 L333.8,176.9 L334.4,176.9 L335.0,177.0 L335.6,177.0 L336.2,177.0 L336.8,177.1 L337.4,177.1 L338.0,177.1 L338.6,177.2 L338.6,177.2 L338.6,177.2" stroke="#1b79c2" stroke-width="1.45"/>
</g>
<line x1="32.4" x2="338.6" y1="199.0" y2="199.0" stroke="#000" stroke-width="1.6"/>
<path d="M43.34,226.4v-3.5M43.34,3.6v3.5M54.27,226.4v-3.5M54.27,3.6v3.5M65.21,226.4v-3.5M65.21,3.6v3.5M76.14,226.4v-5.5M76.14,3.6v5.5M87.08,226.4v-3.5M87.08,3.6v3.5M98.01,226.4v-3.5M98.01,3.6v3.5M108.95,226.4v-3.5M108.95,3.6v3.5M119.89,226.4v-3.5M119.89,3.6v3.5M130.82,226.4v-5.5M130.82,3.6v5.5M141.76,226.4v-3.5M141.76,3.6v3.5M152.69,226.4v-3.5M152.69,3.6v3.5M163.63,226.4v-3.5M163.63,3.6v3.5M174.56,226.4v-3.5M174.56,3.6v3.5M185.50,226.4v-5.5M185.50,3.6v5.5M196.44,226.4v-3.5M196.44,3.6v3.5M207.37,226.4v-3.5M207.37,3.6v3.5M218.31,226.4v-3.5M218.31,3.6v3.5M229.24,226.4v-3.5M229.24,3.6v3.5M240.18,226.4v-5.5M240.18,3.6v5.5M251.11,226.4v-3.5M251.11,3.6v3.5M262.05,226.4v-3.5M262.05,3.6v3.5M272.99,226.4v-3.5M272.99,3.6v3.5M283.92,226.4v-3.5M283.92,3.6v3.5M294.86,226.4v-5.5M294.86,3.6v5.5M305.79,226.4v-3.5M305.79,3.6v3.5M316.73,226.4v-3.5M316.73,3.6v3.5M327.66,226.4v-3.5M327.66,3.6v3.5M32.4,220.25h3.5M338.6,220.25h-3.5M32.4,199.00h5.5M338.6,199.00h-5.5M32.4,177.75h3.5M338.6,177.75h-3.5M32.4,156.50h5.5M338.6,156.50h-5.5M32.4,135.25h3.5M338.6,135.25h-3.5M32.4,114.00h5.5M338.6,114.00h-5.5M32.4,92.75h3.5M338.6,92.75h-3.5M32.4,71.50h5.5M338.6,71.50h-5.5M32.4,50.25h3.5M338.6,50.25h-3.5M32.4,29.00h5.5M338.6,29.00h-5.5M32.4,7.75h3.5M338.6,7.75h-3.5" stroke="#000" stroke-width="1.35" fill="none"/>
<rect x="32.4" y="3.6" width="306.2" height="222.8" fill="none" stroke="#000" stroke-width="2.0"/>
<text x="76.1" y="242.1" font-size="12.4" text-anchor="middle" textLength="21.2" lengthAdjust="spacingAndGlyphs">640</text>
<text x="130.8" y="242.1" font-size="12.4" text-anchor="middle" textLength="21.2" lengthAdjust="spacingAndGlyphs">645</text>
<text x="185.5" y="242.1" font-size="12.4" text-anchor="middle" textLength="21.2" lengthAdjust="spacingAndGlyphs">650</text>
<text x="240.2" y="242.1" font-size="12.4" text-anchor="middle" textLength="21.2" lengthAdjust="spacingAndGlyphs">655</text>
<text x="294.9" y="242.1" font-size="12.4" text-anchor="middle" textLength="21.2" lengthAdjust="spacingAndGlyphs">660</text>
<text x="27.0" y="203.1" font-size="13.3" text-anchor="end" textLength="7.2" lengthAdjust="spacingAndGlyphs">0</text>
<text x="27.0" y="160.6" font-size="13.3" text-anchor="end" textLength="7.2" lengthAdjust="spacingAndGlyphs">2</text>
<text x="27.0" y="118.1" font-size="13.3" text-anchor="end" textLength="7.2" lengthAdjust="spacingAndGlyphs">4</text>
<text x="27.0" y="75.6" font-size="13.3" text-anchor="end" textLength="7.2" lengthAdjust="spacingAndGlyphs">6</text>
<text x="27.0" y="33.1" font-size="13.3" text-anchor="end" textLength="7.2" lengthAdjust="spacingAndGlyphs">8</text>
<text x="185.5" y="256.4" font-size="13.1" text-anchor="middle" textLength="127.8" lengthAdjust="spacingAndGlyphs">Excitation Energy (eV)</text>
<text transform="translate(13.2,114.6) rotate(-90)" font-size="13.6" text-anchor="middle" textLength="66.3" lengthAdjust="spacingAndGlyphs">TEY (norm.)</text>
<text y="29.2" font-size="21.4" fill="#e41a1c"><tspan x="257.3" textLength="9.8" lengthAdjust="spacingAndGlyphs" stroke="#e41a1c" stroke-width="0.45">x</tspan><tspan x="267.8" dy="4.9" font-size="14.4" textLength="15.6" lengthAdjust="spacingAndGlyphs">Ca</tspan><tspan x="283.5" dy="-4.9" textLength="41.2" lengthAdjust="spacingAndGlyphs">=0.3</tspan></text>
<text x="116.0" y="55.0" font-size="21.4" fill="#1f78c1" textLength="214.0" lengthAdjust="spacingAndGlyphs">0.375 × I<tspan font-size="14.4" dy="4.9">0</tspan><tspan dy="-4.9"> + 0.625 × I</tspan><tspan font-size="14.4" dy="4.9">0.8</tspan></text>
</g>
<g id="panel2">
<path d="M396.9,200.9 L397.5,201.1 L398.1,201.2 L398.6,201.4 L399.2,201.5 L399.8,201.7 L400.4,201.9 L401.0,202.0 L401.5,202.2 L402.1,202.3 L402.7,202.5 L403.3,202.6 L403.9,202.8 L404.5,202.9 L405.1,203.0 L405.7,203.2 L406.3,203.3 L406.8,203.5 L407.4,203.6 L407.9,203.8 L408.5,204.0 L409.0,204.3 L409.5,204.6 L410.1,204.9 L410.6,205.2 L411.1,205.6 L411.6,206.0 L412.1,206.4 L412.5,206.8 L413.0,207.2 L413.4,207.6 L413.7,208.1 L414.1,208.5 L414.4,209.0 L414.6,209.5 L414.9,210.1 L415.2,210.6 L415.4,211.2 L415.6,211.8 L415.9,212.3 L416.1,212.9 L416.4,213.4 L416.6,214.0 L416.9,214.5 L417.1,215.1 L417.3,215.6 L417.6,216.2 L417.9,216.7 L418.1,217.3 L418.4,217.8 L418.7,218.4 L419.0,219.0 L419.4,219.7 L419.7,220.2 L420.0,220.5 L420.3,220.4 L420.6,220.0 L420.8,219.3 L421.0,218.6 L421.2,217.9 L421.4,217.4 L421.5,216.8 L421.6,216.2 L421.7,215.6 L421.8,215.0 L421.9,214.4 L422.0,213.8 L422.0,213.2 L422.1,212.6 L422.2,212.0 L422.3,211.4 L422.4,210.8 L422.5,210.2 L422.6,209.6 L422.7,209.1 L422.7,208.5 L422.8,207.9 L422.9,207.3 L423.0,206.7 L423.1,206.1 L423.2,205.5 L423.3,204.9 L423.4,204.3 L423.5,203.7 L423.6,203.1 L423.6,202.5 L423.7,201.9 L423.8,201.3 L423.9,200.7 L424.0,200.2 L424.1,199.6 L424.2,199.0 L424.3,198.4 L424.3,197.8 L424.4,197.2 L424.5,196.6 L424.6,196.0 L424.7,195.4 L424.7,194.8 L424.8,194.2 L424.9,193.6 L425.0,193.0 L425.1,192.4 L425.1,191.8 L425.2,191.2 L425.3,190.6 L425.4,190.0 L425.5,189.4 L425.6,188.9 L425.7,188.3 L425.9,187.7 L426.0,187.1 L426.1,186.5 L426.3,185.9 L426.4,185.3 L426.6,184.7 L426.7,184.2 L426.9,183.6 L427.2,183.1 L427.4,182.5 L427.7,181.9 L428.1,181.3 L428.5,180.9 L429.0,180.8 L429.5,180.8 L430.2,181.0 L430.8,181.2 L431.2,181.5 L431.7,181.9 L432.1,182.5 L432.4,183.1 L432.8,183.7 L433.2,184.1 L433.6,184.4 L434.1,184.5 L434.6,184.3 L435.1,184.0 L435.7,183.6 L436.2,183.3 L436.8,183.0 L437.4,183.0 L438.0,183.0 L438.7,183.0 L439.3,183.0 L439.7,183.0 L440.1,183.1 L440.4,183.5 L440.6,183.9 L440.9,184.5 L441.1,185.2 L441.3,185.9 L441.5,186.6 L441.7,187.3 L441.9,188.0 L442.1,188.6 L442.3,189.2 L442.5,189.7 L442.8,190.3 L443.0,190.9 L443.2,191.4 L443.4,192.0 L443.6,192.6 L443.8,193.1 L444.1,193.7 L444.3,194.2 L444.5,194.8 L444.8,195.3 L445.0,196.0 L445.3,196.6 L445.6,197.3 L445.8,198.0 L446.1,198.6 L446.4,199.1 L446.8,199.4 L447.1,199.5 L447.6,199.5 L448.1,199.5 L448.7,199.5 L449.4,199.5 L450.0,199.5 L450.7,199.5 L451.3,199.5 L451.9,199.5 L452.5,199.4 L453.1,199.3 L453.6,199.0 L454.2,198.7 L454.7,198.5 L455.3,198.2 L455.9,198.0 L456.4,197.9 L457.0,197.7 L457.6,197.5 L458.2,197.4 L458.8,197.2 L459.4,197.1 L460.0,197.1 L460.6,197.0 L461.2,197.0 L461.8,197.0 L462.4,197.0 L462.9,197.0 L463.5,197.0 L464.1,197.0 L464.7,197.0 L465.3,197.1 L465.9,197.1 L466.5,197.1 L467.1,197.1 L467.7,197.1 L468.3,197.2 L468.9,197.2 L469.5,197.2 L470.1,197.2 L470.7,197.3 L471.4,197.3 L472.0,197.3 L472.6,197.3 L473.2,197.4 L473.8,197.4 L474.4,197.4 L475.0,197.5 L475.6,197.5 L476.2,197.5 L476.8,197.5 L477.4,197.6 L478.0,197.6 L478.6,197.6 L479.2,197.7 L479.8,197.7 L480.3,197.7 L480.9,197.8 L481.5,197.8 L482.1,197.9 L482.7,197.9 L483.3,198.0 L483.9,198.0 L484.5,198.0 L485.1,198.1 L485.7,198.1 L486.3,198.2 L486.9,198.2 L487.5,198.3 L488.1,198.3 L488.7,198.3 L489.3,198.4 L489.9,198.4 L490.5,198.5 L491.1,198.5 L491.7,198.6 L492.3,198.6 L492.9,198.6 L493.5,198.7 L494.1,198.7 L494.7,198.8 L495.3,198.8 L495.9,198.8 L496.5,198.9 L497.1,198.9 L497.7,198.9 L498.3,199.0 L498.9,199.0 L499.5,199.1 L500.1,199.1 L500.7,199.1 L501.3,199.2 L501.9,199.2 L502.5,199.3 L503.1,199.3 L503.7,199.3 L504.3,199.4 L504.9,199.4 L505.5,199.5 L506.1,199.5 L506.7,199.6 L507.3,199.6 L507.9,199.6 L508.5,199.7 L509.1,199.7 L509.7,199.8 L510.3,199.8 L510.9,199.9 L511.5,199.9 L512.1,200.0 L512.7,200.0 L513.3,200.1 L513.9,200.1 L514.5,200.2 L515.1,200.2 L515.7,200.3 L516.3,200.3 L516.9,200.4 L517.5,200.4 L518.1,200.5 L518.7,200.5 L519.3,200.6 L519.9,200.6 L520.4,200.6 L521.0,200.7 L521.6,200.7 L522.2,200.8 L522.8,200.8 L523.4,200.8 L524.0,200.9 L524.6,200.9 L525.2,200.9 L525.8,200.9 L526.5,201.0 L527.0,201.0 L527.6,201.0 L528.2,201.3 L528.7,201.6 L529.3,201.9 L529.8,202.0 L530.3,201.7 L530.8,201.2 L531.3,200.8 L531.8,200.5 L532.4,200.6 L533.0,200.7 L533.6,200.9 L534.1,200.9 L534.5,200.6 L534.9,200.1 L535.3,199.5 L535.7,198.9 L536.1,198.6 L536.6,198.2 L537.2,197.9 L537.7,197.6 L538.3,197.3 L538.8,197.1 L539.4,197.0 L540.0,197.0 L540.6,197.0 L541.2,197.1 L541.8,197.2 L542.4,197.3 L543.0,197.4 L543.6,197.4 L544.2,197.5 L544.8,197.5 L545.3,197.4 L545.9,197.3 L546.4,197.1 L547.0,196.8 L547.5,196.5 L548.0,196.2 L548.6,195.9 L549.1,195.5 L549.6,195.2 L550.2,194.9 L550.7,194.6 L551.3,194.3 L551.8,194.0 L552.4,193.7 L552.9,193.4 L553.4,193.0 L554.0,192.7 L554.5,192.5 L555.1,192.2 L555.6,192.1 L556.2,192.0 L556.7,192.0 L557.3,192.1 L557.8,192.3 L558.4,192.5 L558.9,192.7 L559.5,193.0 L560.0,193.3 L560.6,193.7 L561.1,194.0 L561.7,194.3 L562.2,194.5 L562.8,194.8 L563.3,195.1 L563.8,195.3 L564.4,195.6 L564.9,195.9 L565.4,196.2 L566.0,196.4 L566.5,196.7 L567.1,197.0 L567.6,197.2 L568.2,197.5 L568.7,197.7 L569.3,198.0 L569.8,198.2 L570.4,198.5 L570.9,198.7 L571.5,198.9 L572.0,199.1 L572.6,199.3 L573.2,199.5 L573.8,199.6 L574.3,199.7 L574.9,199.8 L575.5,199.9 L576.1,200.0 L576.7,200.1 L577.3,200.2 L577.9,200.3 L578.5,200.3 L579.1,200.4 L579.7,200.5 L580.3,200.6 L580.9,200.6 L581.5,200.7 L582.1,200.7 L582.7,200.8 L583.3,200.8 L583.9,200.9 L584.5,200.9 L585.1,200.9 L585.7,200.9 L586.3,200.9 L586.9,200.8 L587.5,200.7 L588.1,200.6 L588.6,200.5 L589.2,200.3 L589.8,200.2 L590.4,200.0 L591.0,199.8 L591.6,199.7 L592.2,199.6 L592.8,199.5 L593.4,199.5 L593.9,199.5 L594.5,199.5 L595.1,199.6 L595.7,199.6 L596.3,199.7 L596.9,199.8 L597.5,199.9 L598.1,200.0 L598.7,200.2 L599.3,200.4 L599.8,200.5 L600.4,200.7 L600.9,200.9 L600.9,200.9 L396.9,200.9 Z" fill="#1b79c2" stroke="#1b79c2" stroke-width="0.4"/>
<clipPath id="c1"><rect x="373.8" y="3.6" width="306.0" height="222.8"/></clipPath>
<g clip-path="url(#c1)" fill="none" stroke-linejoin="round" stroke-linecap="round">
<path d="M374.7,200.2 L375.3,200.2 L375.9,200.2 L376.5,200.2 L377.1,200.2 L377.7,200.2 L378.3,200.2 L378.9,200.2 L379.5,200.2 L380.1,200.2 L380.7,200.2 L381.3,200.2 L381.9,200.2 L382.5,200.2 L383.1,200.1 L383.7,200.1 L384.3,200.1 L384.9,200.1 L385.5,200.1 L386.1,200.0 L386.7,200.0 L387.3,200.0 L387.9,199.9 L388.5,199.9 L389.1,199.9 L389.7,199.8 L390.3,199.8 L390.9,199.7 L391.5,199.6 L392.1,199.6 L392.7,199.5 L393.3,199.4 L393.9,199.3 L394.5,199.2 L395.1,199.1 L395.6,199.0 L396.2,198.8 L396.8,198.7 L397.4,198.5 L397.9,198.3 L398.5,198.0 L399.0,197.8 L399.5,197.5 L400.0,197.1 L400.5,196.8 L401.0,196.4 L401.5,196.0 L401.9,195.6 L402.3,195.2 L402.8,194.8 L403.2,194.3 L403.6,193.9 L403.9,193.4 L404.3,192.9 L404.7,192.4 L405.0,191.9 L405.3,191.4 L405.7,190.9 L405.9,190.4 L406.2,189.9 L406.5,189.3 L406.7,188.8 L407.0,188.2 L407.2,187.7 L407.4,187.1 L407.6,186.5 L407.8,186.0 L407.9,185.4 L408.1,184.8 L408.2,184.2 L408.4,183.7 L408.5,183.1 L408.6,182.5 L408.7,181.9 L408.8,181.3 L409.0,180.7 L409.1,180.1 L409.2,179.5 L409.3,178.9 L409.4,178.3 L409.5,177.7 L409.6,177.2 L409.6,176.6 L409.7,176.0 L409.8,175.4 L409.9,174.8 L410.0,174.2 L410.1,173.6 L410.2,173.0 L410.3,172.4 L410.4,171.8 L410.5,171.2 L410.6,170.6 L410.7,170.0 L410.8,169.4 L410.9,168.9 L411.0,168.3 L411.1,167.7 L411.2,167.1 L411.3,166.5 L411.4,165.9 L411.5,165.3 L411.6,164.7 L411.7,164.1 L411.8,163.5 L411.8,162.9 L411.9,162.3 L412.0,161.7 L412.1,161.1 L412.2,160.6 L412.2,160.0 L412.3,159.4 L412.4,158.8 L412.5,158.2 L412.5,157.6 L412.6,157.0 L412.7,156.4 L412.8,155.8 L412.8,155.2 L412.9,154.6 L413.0,154.0 L413.0,153.4 L413.1,152.8 L413.2,152.2 L413.2,151.6 L413.3,151.0 L413.4,150.4 L413.4,149.8 L413.5,149.2 L413.5,148.6 L413.6,148.0 L413.7,147.4 L413.7,146.8 L413.8,146.2 L413.8,145.6 L413.9,145.0 L413.9,144.4 L414.0,143.8 L414.0,143.3 L414.1,142.7 L414.2,142.1 L414.2,141.5 L414.3,140.9 L414.3,140.3 L414.4,139.7 L414.4,139.1 L414.5,138.5 L414.6,137.9 L414.6,137.3 L414.7,136.7 L414.8,136.1 L414.8,135.5 L414.9,134.9 L415.0,134.3 L415.1,133.7 L415.2,133.1 L415.2,132.5 L415.3,131.9 L415.4,131.3 L415.5,130.7 L415.6,130.1 L415.7,129.6 L415.8,129.0 L415.9,128.4 L416.0,127.8 L416.1,127.2 L416.2,126.6 L416.3,126.0 L416.4,125.4 L416.4,124.8 L416.5,124.2 L416.6,123.6 L416.6,123.0 L416.7,122.4 L416.8,121.8 L416.8,121.2 L416.9,120.6 L416.9,120.0 L417.0,119.4 L417.0,118.8 L417.1,118.2 L417.1,117.6 L417.1,117.0 L417.2,116.4 L417.2,115.8 L417.3,115.3 L417.3,114.7 L417.3,114.1 L417.4,113.5 L417.4,112.9 L417.4,112.3 L417.5,111.7 L417.5,111.1 L417.6,110.5 L417.6,109.9 L417.7,109.3 L417.7,108.7 L417.7,108.1 L417.8,107.5 L417.8,106.9 L417.9,106.3 L417.9,105.7 L418.0,105.1 L418.0,104.5 L418.1,103.9 L418.2,103.3 L418.2,102.7 L418.3,102.1 L418.4,101.5 L418.4,100.9 L418.5,100.3 L418.6,99.7 L418.7,99.1 L418.7,98.5 L418.8,97.9 L418.9,97.3 L419.0,96.7 L419.1,96.1 L419.3,95.6 L419.4,95.0 L419.5,94.4 L419.7,93.8 L419.8,93.2 L420.0,92.6 L420.1,92.1 L420.3,91.5 L420.5,90.9 L420.6,90.3 L420.8,89.8 L421.0,89.2 L421.2,88.6 L421.4,88.1 L421.6,87.5 L421.9,87.0 L422.1,86.4 L422.4,85.8 L422.6,85.3 L422.8,84.7 L423.1,84.2 L423.3,83.6 L423.5,83.1 L423.8,82.5 L424.0,82.0 L424.2,81.4 L424.4,80.8 L424.6,80.3 L424.7,79.7 L424.9,79.1 L425.0,78.5 L425.2,78.0 L425.3,77.4 L425.4,76.8 L425.5,76.2 L425.6,75.6 L425.7,75.0 L425.8,74.4 L425.9,73.8 L426.0,73.2 L426.1,72.6 L426.2,72.0 L426.3,71.4 L426.4,70.9 L426.5,70.3 L426.7,69.7 L426.8,69.1 L426.9,68.5 L427.0,67.9 L427.2,67.3 L427.4,66.8 L427.5,66.2 L427.7,65.6 L427.9,65.0 L428.1,64.5 L428.3,63.9 L428.5,63.4 L428.7,62.8 L428.8,62.2 L429.0,61.7 L429.2,61.1 L429.4,60.5 L429.6,60.0 L429.7,59.4 L429.9,58.9 L430.1,58.3 L430.2,57.7 L430.4,57.2 L430.6,56.6 L430.7,56.0 L430.9,55.4 L431.1,54.9 L431.2,54.3 L431.4,53.7 L431.5,53.1 L431.7,52.5 L431.8,51.9 L432.0,51.4 L432.2,50.8 L432.4,50.2 L432.6,49.7 L432.8,49.2 L433.1,48.6 L433.3,48.1 L433.6,47.7 L434.0,47.2 L434.4,46.8 L434.8,46.3 L435.3,45.9 L435.7,45.5 L436.2,45.1 L436.6,44.7 L437.0,44.2 L437.3,43.7 L437.7,43.3 L438.1,42.8 L438.4,42.3 L438.8,41.8 L439.1,41.3 L439.4,40.8 L439.7,40.2 L440.0,39.7 L440.3,39.2 L440.5,38.6 L440.8,38.1 L441.0,37.5 L441.2,37.0 L441.3,36.4 L441.5,35.8 L441.7,35.2 L441.8,34.6 L441.9,34.0 L442.1,33.4 L442.2,32.8 L442.3,32.2 L442.5,31.7 L442.6,31.1 L442.7,30.5 L442.8,29.9 L443.0,29.3 L443.1,28.7 L443.2,28.2 L443.4,27.6 L443.5,27.0 L443.7,26.5 L443.9,25.9 L444.0,25.4 L444.2,24.8 L444.4,24.3 L444.6,23.7 L444.8,23.1 L445.1,22.5 L445.3,22.0 L445.6,21.4 L445.9,20.7 L446.2,20.1 L446.6,19.6 L447.0,19.4 L447.5,19.5 L448.0,19.9 L448.4,20.4 L448.8,20.9 L449.1,21.4 L449.4,22.0 L449.6,22.5 L449.8,23.1 L450.0,23.7 L450.2,24.2 L450.3,24.8 L450.5,25.4 L450.7,25.9 L450.9,26.5 L451.0,27.1 L451.2,27.6 L451.3,28.2 L451.5,28.8 L451.7,29.4 L451.8,30.0 L452.0,30.5 L452.1,31.1 L452.3,31.7 L452.4,32.3 L452.6,32.9 L452.7,33.5 L452.9,34.1 L453.0,34.6 L453.2,35.2 L453.3,35.8 L453.5,36.4 L453.6,37.0 L453.8,37.6 L453.9,38.2 L454.1,38.7 L454.2,39.3 L454.4,39.9 L454.5,40.5 L454.7,41.1 L454.8,41.6 L455.0,42.2 L455.1,42.8 L455.3,43.4 L455.4,44.0 L455.6,44.5 L455.7,45.1 L455.9,45.7 L456.0,46.3 L456.2,46.9 L456.3,47.5 L456.5,48.0 L456.6,48.6 L456.8,49.2 L457.0,49.8 L457.1,50.4 L457.3,51.0 L457.5,51.5 L457.6,52.1 L457.8,52.7 L458.0,53.3 L458.1,53.9 L458.3,54.5 L458.4,55.0 L458.6,55.6 L458.8,56.2 L458.9,56.8 L459.1,57.4 L459.2,58.0 L459.4,58.6 L459.5,59.2 L459.6,59.8 L459.8,60.4 L459.9,60.9 L460.0,61.5 L460.2,62.1 L460.3,62.7 L460.4,63.3 L460.5,63.9 L460.6,64.5 L460.7,65.1 L460.8,65.7 L460.8,66.3 L460.9,66.9 L461.0,67.5 L461.0,68.1 L461.1,68.7 L461.2,69.3 L461.2,69.9 L461.3,70.5 L461.3,71.1 L461.4,71.7 L461.5,72.3 L461.5,72.9 L461.6,73.5 L461.7,74.1 L461.7,74.7 L461.8,75.2 L461.9,75.8 L461.9,76.4 L462.0,77.0 L462.1,77.6 L462.1,78.2 L462.2,78.8 L462.3,79.4 L462.4,80.0 L462.5,80.6 L462.6,81.2 L462.7,81.8 L462.8,82.4 L462.9,83.0 L463.0,83.5 L463.1,84.1 L463.2,84.7 L463.3,85.3 L463.5,85.9 L463.6,86.5 L463.7,87.1 L463.8,87.7 L464.0,88.2 L464.1,88.8 L464.2,89.4 L464.4,90.0 L464.5,90.6 L464.6,91.2 L464.8,91.8 L464.9,92.3 L465.0,92.9 L465.2,93.5 L465.3,94.1 L465.5,94.7 L465.6,95.3 L465.7,95.9 L465.9,96.4 L466.0,97.0 L466.1,97.6 L466.3,98.2 L466.4,98.8 L466.6,99.4 L466.7,99.9 L466.8,100.5 L467.0,101.1 L467.1,101.7 L467.2,102.3 L467.3,102.9 L467.5,103.5 L467.6,104.0 L467.7,104.6 L467.9,105.2 L468.0,105.8 L468.1,106.4 L468.3,107.0 L468.4,107.6 L468.5,108.1 L468.7,108.7 L468.8,109.3 L468.9,109.9 L469.0,110.5 L469.2,111.1 L469.3,111.7 L469.4,112.2 L469.6,112.8 L469.7,113.4 L469.8,114.0 L470.0,114.6 L470.1,115.2 L470.2,115.8 L470.4,116.3 L470.5,116.9 L470.7,117.5 L470.8,118.1 L470.9,118.7 L471.1,119.3 L471.2,119.8 L471.4,120.4 L471.5,121.0 L471.7,121.6 L471.8,122.2 L471.9,122.7 L472.1,123.3 L472.2,123.9 L472.4,124.5 L472.5,125.1 L472.7,125.7 L472.8,126.2 L473.0,126.8 L473.2,127.4 L473.3,128.0 L473.5,128.6 L473.6,129.1 L473.8,129.7 L474.0,130.3 L474.1,130.9 L474.3,131.4 L474.4,132.0 L474.6,132.6 L474.8,133.2 L475.0,133.7 L475.1,134.3 L475.3,134.9 L475.5,135.5 L475.7,136.1 L475.8,136.6 L476.0,137.2 L476.2,137.8 L476.4,138.4 L476.6,138.9 L476.8,139.5 L477.0,140.1 L477.2,140.6 L477.4,141.2 L477.6,141.8 L477.8,142.3 L478.0,142.9 L478.2,143.4 L478.5,144.0 L478.7,144.5 L478.9,145.1 L479.2,145.6 L479.4,146.2 L479.7,146.7 L479.9,147.2 L480.2,147.8 L480.5,148.3 L480.8,148.8 L481.0,149.4 L481.3,149.9 L481.6,150.4 L481.9,151.0 L482.2,151.5 L482.6,152.0 L482.9,152.5 L483.2,153.0 L483.5,153.5 L483.9,154.0 L484.2,154.5 L484.5,155.0 L484.9,155.5 L485.2,156.0 L485.6,156.5 L486.0,157.0 L486.3,157.4 L486.7,157.9 L487.1,158.3 L487.5,158.8 L487.9,159.3 L488.3,159.7 L488.7,160.2 L489.1,160.6 L489.5,161.0 L489.9,161.5 L490.4,161.9 L490.8,162.3 L491.3,162.7 L491.7,163.2 L492.2,163.6 L492.6,164.0 L493.1,164.4 L493.6,164.7 L494.0,165.1 L494.5,165.5 L495.0,165.9 L495.5,166.2 L496.0,166.6 L496.5,166.9 L496.9,167.2 L497.4,167.5 L498.0,167.8 L498.5,168.1 L499.0,168.4 L499.5,168.7 L500.0,169.0 L500.5,169.2 L501.1,169.5 L501.6,169.8 L502.2,170.0 L502.7,170.3 L503.3,170.5 L503.8,170.7 L504.4,171.0 L504.9,171.2 L505.5,171.4 L506.1,171.6 L506.6,171.8 L507.2,172.1 L507.8,172.3 L508.3,172.5 L508.9,172.7 L509.5,172.9 L510.0,173.1 L510.6,173.3 L511.2,173.5 L511.8,173.7 L512.3,173.9 L512.9,174.1 L513.5,174.3 L514.1,174.5 L514.6,174.7 L515.2,174.9 L515.8,175.1 L516.4,175.2 L517.0,175.3 L517.6,175.4 L518.1,175.4 L518.7,175.4 L519.3,175.4 L519.9,175.3 L520.5,175.2 L521.1,175.1 L521.7,174.9 L522.3,174.8 L522.9,174.6 L523.4,174.4 L524.0,174.2 L524.6,174.0 L525.1,173.7 L525.6,173.4 L526.1,173.1 L526.5,172.7 L526.9,172.3 L527.3,171.9 L527.7,171.5 L528.1,171.0 L528.4,170.5 L528.7,170.0 L529.0,169.5 L529.3,168.9 L529.6,168.4 L529.9,167.8 L530.2,167.2 L530.4,166.6 L530.7,166.1 L530.9,165.5 L531.2,164.9 L531.4,164.3 L531.6,163.7 L531.9,163.2 L532.1,162.6 L532.3,162.0 L532.5,161.5 L532.8,160.9 L533.0,160.4 L533.2,159.8 L533.4,159.2 L533.6,158.7 L533.8,158.1 L534.0,157.5 L534.2,157.0 L534.4,156.4 L534.6,155.8 L534.8,155.3 L535.0,154.7 L535.2,154.1 L535.4,153.6 L535.6,153.0 L535.8,152.4 L535.9,151.9 L536.1,151.3 L536.3,150.7 L536.4,150.2 L536.6,149.6 L536.8,149.0 L536.9,148.4 L537.0,147.9 L537.2,147.3 L537.3,146.7 L537.5,146.1 L537.6,145.5 L537.7,144.9 L537.8,144.4 L538.0,143.8 L538.1,143.2 L538.2,142.6 L538.3,142.0 L538.4,141.4 L538.6,140.8 L538.7,140.2 L538.8,139.6 L538.9,139.1 L539.0,138.5 L539.1,137.9 L539.2,137.3 L539.3,136.7 L539.5,136.1 L539.6,135.5 L539.7,134.9 L539.8,134.3 L539.9,133.7 L540.0,133.1 L540.1,132.5 L540.2,131.9 L540.4,131.3 L540.5,130.7 L540.6,130.1 L540.8,129.6 L541.0,129.0 L541.1,128.4 L541.3,127.9 L541.6,127.4 L541.8,126.8 L542.1,126.3 L542.4,125.8 L542.7,125.3 L543.0,124.8 L543.4,124.3 L543.7,123.8 L544.1,123.3 L544.4,122.8 L544.8,122.3 L545.1,121.8 L545.5,121.3 L545.8,120.8 L546.1,120.3 L546.4,119.7 L546.7,119.2 L547.0,118.7 L547.3,118.2 L547.5,117.6 L547.8,117.1 L548.0,116.5 L548.3,116.0 L548.5,115.4 L548.8,114.9 L549.0,114.3 L549.2,113.8 L549.5,113.2 L549.7,112.7 L549.9,112.1 L550.1,111.6 L550.4,111.0 L550.6,110.4 L550.8,109.9 L551.1,109.3 L551.3,108.8 L551.6,108.2 L551.8,107.7 L552.1,107.2 L552.3,106.6 L552.6,106.1 L552.9,105.5 L553.1,105.0 L553.4,104.5 L553.7,103.9 L554.0,103.4 L554.3,102.9 L554.5,102.3 L554.8,101.8 L555.1,101.3 L555.4,100.8 L555.7,100.3 L556.1,99.8 L556.4,99.2 L556.7,98.7 L557.0,98.2 L557.3,97.7 L557.7,97.2 L558.0,96.7 L558.4,96.2 L558.7,95.7 L559.1,95.2 L559.5,94.8 L559.9,94.3 L560.3,93.9 L560.8,93.6 L561.3,93.2 L561.8,92.9 L562.4,92.7 L563.0,92.5 L563.6,92.5 L564.2,92.6 L564.8,92.7 L565.3,92.9 L565.9,93.2 L566.4,93.5 L566.9,93.8 L567.4,94.2 L567.8,94.6 L568.3,95.1 L568.7,95.5 L569.0,96.0 L569.4,96.5 L569.7,97.0 L570.0,97.5 L570.3,98.0 L570.6,98.5 L570.9,99.0 L571.2,99.6 L571.4,100.1 L571.7,100.7 L571.9,101.3 L572.1,101.8 L572.4,102.4 L572.6,102.9 L572.8,103.5 L573.0,104.1 L573.2,104.6 L573.4,105.2 L573.6,105.8 L573.8,106.3 L573.9,106.9 L574.1,107.5 L574.3,108.1 L574.5,108.6 L574.6,109.2 L574.8,109.8 L575.0,110.4 L575.1,110.9 L575.3,111.5 L575.4,112.1 L575.6,112.7 L575.8,113.3 L575.9,113.8 L576.1,114.4 L576.2,115.0 L576.4,115.6 L576.5,116.2 L576.7,116.7 L576.8,117.3 L577.0,117.9 L577.1,118.5 L577.3,119.1 L577.4,119.6 L577.6,120.2 L577.7,120.8 L577.9,121.4 L578.0,122.0 L578.2,122.5 L578.3,123.1 L578.5,123.7 L578.7,124.3 L578.8,124.9 L579.0,125.4 L579.2,126.0 L579.4,126.6 L579.5,127.1 L579.7,127.7 L579.9,128.3 L580.1,128.9 L580.3,129.4 L580.5,130.0 L580.7,130.6 L580.8,131.1 L581.0,131.7 L581.2,132.3 L581.4,132.8 L581.6,133.4 L581.8,134.0 L582.0,134.6 L582.2,135.1 L582.4,135.7 L582.6,136.3 L582.8,136.8 L583.0,137.4 L583.2,138.0 L583.4,138.5 L583.6,139.1 L583.8,139.7 L584.0,140.2 L584.2,140.8 L584.4,141.3 L584.6,141.9 L584.8,142.5 L585.0,143.0 L585.2,143.6 L585.5,144.1 L585.7,144.7 L585.9,145.3 L586.1,145.8 L586.4,146.4 L586.6,146.9 L586.8,147.5 L587.0,148.0 L587.3,148.6 L587.5,149.1 L587.8,149.7 L588.0,150.2 L588.3,150.8 L588.5,151.3 L588.8,151.9 L589.0,152.4 L589.3,153.0 L589.5,153.5 L589.8,154.0 L590.1,154.6 L590.4,155.1 L590.6,155.6 L590.9,156.2 L591.2,156.7 L591.5,157.2 L591.8,157.7 L592.1,158.3 L592.4,158.8 L592.8,159.3 L593.1,159.8 L593.4,160.3 L593.8,160.7 L594.1,161.2 L594.5,161.7 L594.9,162.2 L595.3,162.6 L595.7,163.1 L596.1,163.5 L596.5,164.0 L596.9,164.4 L597.4,164.8 L597.8,165.2 L598.3,165.7 L598.7,166.1 L599.2,166.4 L599.6,166.8 L600.1,167.2 L600.6,167.5 L601.1,167.8 L601.6,168.2 L602.1,168.5 L602.6,168.8 L603.1,169.1 L603.6,169.4 L604.2,169.7 L604.7,170.0 L605.3,170.2 L605.8,170.5 L606.4,170.7 L606.9,171.0 L607.5,171.2 L608.1,171.5 L608.6,171.7 L609.2,171.9 L609.8,172.1 L610.3,172.3 L610.9,172.4 L611.5,172.6 L612.1,172.7 L612.6,172.9 L613.2,173.0 L613.8,173.1 L614.4,173.3 L615.0,173.4 L615.6,173.5 L616.1,173.6 L616.7,173.7 L617.3,173.8 L617.9,173.9 L618.5,174.0 L619.1,174.1 L619.7,174.2 L620.3,174.3 L620.9,174.3 L621.5,174.4 L622.1,174.5 L622.7,174.5 L623.3,174.6 L623.9,174.6 L624.5,174.7 L625.1,174.7 L625.7,174.8 L626.3,174.8 L626.9,174.8 L627.5,174.9 L628.1,174.9 L628.7,174.9 L629.3,175.0 L629.9,175.0 L630.5,175.0 L631.1,175.1 L631.7,175.1 L632.3,175.1 L632.9,175.1 L633.5,175.2 L634.1,175.2 L634.7,175.2 L635.3,175.2 L635.9,175.2 L636.5,175.3 L637.1,175.3 L637.7,175.3 L638.3,175.3 L638.9,175.3 L639.5,175.4 L640.1,175.4 L640.7,175.4 L641.3,175.4 L641.9,175.4 L642.5,175.4 L643.1,175.5 L643.7,175.5 L644.3,175.5 L644.9,175.5 L645.5,175.5 L646.1,175.6 L646.7,175.6 L647.3,175.6 L647.9,175.6 L648.5,175.6 L649.1,175.7 L649.7,175.7 L650.3,175.7 L650.9,175.7 L651.5,175.8 L652.1,175.8 L652.7,175.8 L653.3,175.9 L653.9,175.9 L654.5,175.9 L655.1,176.0 L655.7,176.0 L656.3,176.0 L656.9,176.1 L657.5,176.1 L658.1,176.2 L658.7,176.2 L659.3,176.2 L659.9,176.3 L660.5,176.3 L661.1,176.4 L661.7,176.4 L662.3,176.4 L662.9,176.5 L663.5,176.5 L664.1,176.6 L664.7,176.6 L665.3,176.7 L665.9,176.7 L666.5,176.7 L667.1,176.8 L667.7,176.8 L668.3,176.9 L668.9,176.9 L669.4,177.0 L670.0,177.0 L670.6,177.0 L671.2,177.1 L671.8,177.1 L672.4,177.2 L673.0,177.2 L673.6,177.2 L674.2,177.3 L674.8,177.3 L675.4,177.3 L676.0,177.4 L676.6,177.4 L677.2,177.4 L677.8,177.5 L678.4,177.5 L679.0,177.5 L679.6,177.6 L679.8,177.6 L679.8,177.6" stroke="#e41a1c" stroke-width="1.45"/>
<path d="M374.7,200.2 L375.3,200.2 L375.9,200.2 L376.5,200.2 L377.1,200.2 L377.7,200.2 L378.3,200.2 L378.9,200.2 L379.5,200.2 L380.1,200.2 L380.7,200.2 L381.3,200.2 L381.9,200.2 L382.5,200.2 L383.1,200.2 L383.7,200.2 L384.3,200.1 L384.9,200.1 L385.5,200.1 L386.1,200.1 L386.7,200.0 L387.3,200.0 L387.9,200.0 L388.5,200.0 L389.1,199.9 L389.7,199.9 L390.3,199.8 L390.9,199.8 L391.5,199.8 L392.1,199.7 L392.7,199.6 L393.3,199.5 L393.9,199.5 L394.5,199.4 L395.1,199.3 L395.7,199.2 L396.3,199.1 L396.8,198.9 L397.4,198.8 L398.0,198.6 L398.6,198.4 L399.1,198.2 L399.7,198.0 L400.2,197.7 L400.7,197.3 L401.2,197.0 L401.7,196.7 L402.2,196.3 L402.6,195.9 L403.1,195.5 L403.5,195.1 L403.9,194.6 L404.3,194.2 L404.7,193.7 L405.1,193.2 L405.4,192.8 L405.8,192.3 L406.1,191.8 L406.4,191.3 L406.8,190.8 L407.0,190.2 L407.3,189.7 L407.6,189.2 L407.8,188.6 L408.1,188.1 L408.3,187.5 L408.5,186.9 L408.6,186.4 L408.8,185.8 L409.0,185.2 L409.1,184.6 L409.3,184.0 L409.4,183.5 L409.5,182.9 L409.7,182.3 L409.8,181.7 L409.9,181.1 L410.0,180.5 L410.1,179.9 L410.2,179.3 L410.3,178.7 L410.4,178.1 L410.5,177.5 L410.6,177.0 L410.7,176.4 L410.8,175.8 L410.9,175.2 L411.0,174.6 L411.1,174.0 L411.2,173.4 L411.3,172.8 L411.4,172.2 L411.5,171.6 L411.6,171.0 L411.7,170.4 L411.8,169.8 L411.9,169.2 L412.0,168.7 L412.0,168.1 L412.1,167.5 L412.2,166.9 L412.3,166.3 L412.4,165.7 L412.5,165.1 L412.6,164.5 L412.7,163.9 L412.8,163.3 L412.9,162.7 L413.0,162.1 L413.0,161.5 L413.1,160.9 L413.2,160.4 L413.3,159.8 L413.3,159.2 L413.4,158.6 L413.5,158.0 L413.6,157.4 L413.6,156.8 L413.7,156.2 L413.8,155.6 L413.8,155.0 L413.9,154.4 L414.0,153.8 L414.0,153.2 L414.1,152.6 L414.2,152.0 L414.2,151.4 L414.3,150.8 L414.4,150.2 L414.4,149.6 L414.5,149.0 L414.6,148.4 L414.6,147.8 L414.7,147.2 L414.7,146.6 L414.8,146.0 L414.9,145.4 L414.9,144.8 L415.0,144.3 L415.0,143.7 L415.1,143.1 L415.2,142.5 L415.2,141.9 L415.3,141.3 L415.3,140.7 L415.4,140.1 L415.4,139.5 L415.5,138.9 L415.6,138.3 L415.6,137.7 L415.7,137.1 L415.7,136.5 L415.8,135.9 L415.9,135.3 L415.9,134.7 L416.0,134.1 L416.1,133.5 L416.1,132.9 L416.2,132.3 L416.3,131.7 L416.3,131.1 L416.4,130.5 L416.5,129.9 L416.5,129.3 L416.6,128.7 L416.7,128.1 L416.8,127.5 L416.8,126.9 L416.9,126.4 L417.0,125.8 L417.1,125.2 L417.2,124.6 L417.3,124.0 L417.3,123.4 L417.4,122.8 L417.5,122.2 L417.6,121.6 L417.7,121.0 L417.8,120.4 L417.9,119.8 L418.0,119.2 L418.1,118.7 L418.3,118.1 L418.4,117.5 L418.5,116.9 L418.6,116.3 L418.7,115.7 L418.9,115.1 L419.0,114.5 L419.1,114.0 L419.3,113.4 L419.4,112.8 L419.6,112.2 L419.7,111.6 L419.9,111.0 L420.0,110.5 L420.2,109.9 L420.3,109.3 L420.5,108.7 L420.7,108.1 L420.8,107.6 L420.9,107.0 L421.1,106.4 L421.2,105.8 L421.4,105.2 L421.5,104.6 L421.6,104.1 L421.7,103.5 L421.8,102.9 L421.9,102.3 L422.0,101.7 L422.1,101.1 L422.2,100.5 L422.3,99.9 L422.4,99.3 L422.5,98.7 L422.6,98.1 L422.7,97.6 L422.8,97.0 L422.9,96.4 L423.0,95.8 L423.0,95.2 L423.1,94.6 L423.2,94.0 L423.3,93.4 L423.4,92.8 L423.4,92.2 L423.5,91.6 L423.6,91.0 L423.7,90.4 L423.7,89.8 L423.8,89.2 L423.9,88.6 L424.0,88.0 L424.0,87.4 L424.1,86.8 L424.2,86.2 L424.2,85.6 L424.3,85.1 L424.4,84.5 L424.4,83.9 L424.5,83.3 L424.6,82.7 L424.6,82.1 L424.7,81.5 L424.8,80.9 L424.8,80.3 L424.9,79.7 L425.0,79.1 L425.0,78.5 L425.1,77.9 L425.2,77.3 L425.2,76.7 L425.3,76.1 L425.3,75.5 L425.4,74.9 L425.5,74.3 L425.5,73.7 L425.6,73.1 L425.7,72.5 L425.7,71.9 L425.8,71.3 L425.8,70.7 L425.9,70.1 L426.0,69.5 L426.0,68.9 L426.1,68.3 L426.1,67.7 L426.2,67.1 L426.2,66.5 L426.3,66.0 L426.4,65.4 L426.4,64.8 L426.5,64.2 L426.5,63.6 L426.5,63.0 L426.6,62.4 L426.6,61.8 L426.6,61.2 L426.6,60.6 L426.7,60.0 L426.7,59.4 L426.7,58.8 L426.7,58.2 L426.8,57.6 L426.8,57.0 L426.8,56.4 L426.8,55.8 L426.9,55.2 L426.9,54.6 L426.9,54.0 L427.0,53.4 L427.0,52.8 L427.0,52.2 L427.0,51.6 L427.1,51.0 L427.1,50.4 L427.1,49.8 L427.2,49.2 L427.2,48.6 L427.2,48.0 L427.3,47.4 L427.3,46.8 L427.4,46.2 L427.5,45.6 L427.6,45.0 L427.7,44.4 L427.8,43.8 L427.9,43.2 L428.0,42.6 L428.2,42.1 L428.3,41.5 L428.5,40.9 L428.6,40.4 L428.8,39.8 L429.0,39.3 L429.3,38.7 L429.6,38.2 L429.9,37.7 L430.2,37.1 L430.6,36.6 L430.9,36.1 L431.2,35.7 L431.6,35.2 L432.0,34.7 L432.4,34.3 L432.8,33.8 L433.1,33.3 L433.5,32.8 L433.8,32.4 L434.2,31.9 L434.5,31.3 L434.8,30.8 L435.0,30.3 L435.3,29.8 L435.6,29.2 L435.8,28.7 L436.1,28.1 L436.3,27.6 L436.5,27.0 L436.8,26.4 L437.0,25.9 L437.3,25.3 L437.5,24.8 L437.8,24.2 L438.0,23.7 L438.3,23.2 L438.5,22.6 L438.8,22.1 L439.1,21.6 L439.4,21.0 L439.7,20.5 L440.0,20.0 L440.3,19.5 L440.6,19.0 L441.0,18.5 L441.4,18.0 L441.8,17.5 L442.2,17.0 L442.7,16.7 L443.2,16.4 L443.8,16.3 L444.4,16.3 L445.0,16.4 L445.6,16.5 L446.1,16.8 L446.6,17.1 L447.0,17.5 L447.4,18.0 L447.8,18.5 L448.2,19.0 L448.5,19.5 L448.8,20.0 L449.1,20.5 L449.4,21.0 L449.7,21.6 L450.0,22.1 L450.2,22.7 L450.5,23.2 L450.7,23.8 L451.0,24.3 L451.2,24.9 L451.4,25.4 L451.6,26.0 L451.8,26.5 L452.0,27.1 L452.2,27.7 L452.4,28.2 L452.6,28.8 L452.8,29.4 L453.0,30.0 L453.1,30.5 L453.3,31.1 L453.5,31.7 L453.6,32.3 L453.8,32.8 L453.9,33.4 L454.1,34.0 L454.2,34.6 L454.4,35.2 L454.5,35.8 L454.7,36.3 L454.9,36.9 L455.0,37.5 L455.2,38.1 L455.3,38.7 L455.5,39.2 L455.6,39.8 L455.7,40.4 L455.9,41.0 L456.0,41.6 L456.2,42.2 L456.3,42.7 L456.5,43.3 L456.6,43.9 L456.8,44.5 L456.9,45.1 L457.0,45.7 L457.2,46.2 L457.3,46.8 L457.4,47.4 L457.6,48.0 L457.7,48.6 L457.9,49.2 L458.0,49.8 L458.2,50.3 L458.4,50.9 L458.5,51.5 L458.7,52.1 L458.8,52.7 L459.0,53.3 L459.1,53.9 L459.2,54.5 L459.4,55.1 L459.5,55.6 L459.7,56.2 L459.8,56.8 L459.9,57.4 L460.1,58.0 L460.2,58.6 L460.3,59.2 L460.5,59.8 L460.6,60.4 L460.7,61.0 L460.9,61.6 L461.0,62.2 L461.1,62.8 L461.2,63.3 L461.3,63.9 L461.4,64.5 L461.5,65.1 L461.6,65.7 L461.6,66.3 L461.7,66.9 L461.8,67.5 L461.9,68.1 L461.9,68.7 L462.0,69.3 L462.1,69.9 L462.1,70.5 L462.2,71.1 L462.3,71.7 L462.4,72.3 L462.4,72.9 L462.5,73.5 L462.6,74.1 L462.6,74.7 L462.7,75.3 L462.8,75.9 L462.9,76.4 L463.0,77.0 L463.0,77.6 L463.1,78.2 L463.2,78.8 L463.3,79.4 L463.4,80.0 L463.5,80.6 L463.6,81.2 L463.7,81.8 L463.8,82.4 L463.9,83.0 L464.0,83.5 L464.1,84.1 L464.3,84.7 L464.4,85.3 L464.5,85.9 L464.6,86.5 L464.7,87.1 L464.9,87.7 L465.0,88.2 L465.1,88.8 L465.3,89.4 L465.4,90.0 L465.5,90.6 L465.7,91.2 L465.8,91.8 L465.9,92.3 L466.1,92.9 L466.2,93.5 L466.3,94.1 L466.5,94.7 L466.6,95.3 L466.7,95.9 L466.9,96.4 L467.0,97.0 L467.2,97.6 L467.3,98.2 L467.4,98.8 L467.6,99.4 L467.7,100.0 L467.8,100.5 L468.0,101.1 L468.1,101.7 L468.2,102.3 L468.3,102.9 L468.5,103.5 L468.6,104.0 L468.7,104.6 L468.9,105.2 L469.0,105.8 L469.1,106.4 L469.3,107.0 L469.4,107.6 L469.5,108.1 L469.7,108.7 L469.8,109.3 L469.9,109.9 L470.1,110.5 L470.2,111.1 L470.3,111.7 L470.4,112.2 L470.6,112.8 L470.7,113.4 L470.8,114.0 L471.0,114.6 L471.1,115.2 L471.3,115.8 L471.4,116.3 L471.5,116.9 L471.7,117.5 L471.8,118.1 L471.9,118.7 L472.1,119.3 L472.2,119.8 L472.4,120.4 L472.5,121.0 L472.6,121.6 L472.8,122.2 L472.9,122.8 L473.1,123.3 L473.2,123.9 L473.4,124.5 L473.5,125.1 L473.7,125.7 L473.8,126.2 L473.9,126.8 L474.1,127.4 L474.3,128.0 L474.4,128.6 L474.6,129.2 L474.7,129.7 L474.9,130.3 L475.0,130.9 L475.2,131.5 L475.4,132.0 L475.5,132.6 L475.7,133.2 L475.8,133.8 L476.0,134.4 L476.2,134.9 L476.3,135.5 L476.5,136.1 L476.7,136.7 L476.9,137.3 L477.0,137.8 L477.2,138.4 L477.4,139.0 L477.6,139.5 L477.8,140.1 L478.0,140.7 L478.2,141.2 L478.4,141.8 L478.6,142.4 L478.8,142.9 L479.0,143.5 L479.2,144.0 L479.5,144.6 L479.7,145.1 L480.0,145.7 L480.2,146.2 L480.5,146.8 L480.7,147.3 L481.0,147.9 L481.3,148.4 L481.5,148.9 L481.8,149.5 L482.1,150.0 L482.4,150.5 L482.7,151.0 L483.0,151.6 L483.3,152.1 L483.7,152.6 L484.0,153.1 L484.3,153.6 L484.6,154.1 L485.0,154.6 L485.3,155.1 L485.7,155.6 L486.0,156.1 L486.4,156.5 L486.8,157.0 L487.1,157.5 L487.5,157.9 L487.9,158.4 L488.3,158.9 L488.7,159.3 L489.1,159.7 L489.5,160.2 L489.9,160.6 L490.3,161.1 L490.8,161.5 L491.2,161.9 L491.7,162.3 L492.1,162.8 L492.6,163.2 L493.0,163.6 L493.5,164.0 L493.9,164.3 L494.4,164.7 L494.9,165.1 L495.4,165.5 L495.9,165.8 L496.3,166.2 L496.8,166.5 L497.3,166.8 L497.8,167.2 L498.3,167.5 L498.8,167.8 L499.4,168.1 L499.9,168.3 L500.4,168.6 L500.9,168.9 L501.5,169.2 L502.0,169.4 L502.5,169.7 L503.1,169.9 L503.6,170.2 L504.2,170.4 L504.7,170.7 L505.3,170.9 L505.9,171.1 L506.4,171.3 L507.0,171.6 L507.6,171.8 L508.1,172.0 L508.7,172.2 L509.3,172.4 L509.8,172.6 L510.4,172.8 L511.0,173.0 L511.5,173.2 L512.1,173.4 L512.7,173.6 L513.2,173.9 L513.8,174.1 L514.4,174.2 L515.0,174.4 L515.6,174.6 L516.2,174.7 L516.7,174.8 L517.3,174.9 L517.9,175.0 L518.5,175.0 L519.1,175.0 L519.7,174.9 L520.3,174.9 L520.9,174.8 L521.5,174.7 L522.1,174.5 L522.7,174.4 L523.2,174.2 L523.8,174.0 L524.4,173.7 L524.9,173.4 L525.4,173.1 L525.9,172.8 L526.3,172.4 L526.7,172.0 L527.1,171.6 L527.4,171.1 L527.8,170.7 L528.1,170.2 L528.5,169.7 L528.8,169.1 L529.1,168.6 L529.3,168.0 L529.6,167.5 L529.9,166.9 L530.1,166.3 L530.4,165.7 L530.6,165.2 L530.9,164.6 L531.1,164.0 L531.3,163.4 L531.6,162.9 L531.8,162.3 L532.0,161.7 L532.2,161.2 L532.5,160.6 L532.7,160.0 L532.9,159.5 L533.1,158.9 L533.3,158.4 L533.5,157.8 L533.7,157.2 L533.9,156.7 L534.1,156.1 L534.3,155.5 L534.5,155.0 L534.7,154.4 L534.9,153.8 L535.1,153.3 L535.3,152.7 L535.5,152.1 L535.6,151.6 L535.8,151.0 L536.0,150.4 L536.1,149.9 L536.3,149.3 L536.5,148.7 L536.6,148.1 L536.8,147.6 L536.9,147.0 L537.0,146.4 L537.2,145.8 L537.3,145.2 L537.4,144.6 L537.6,144.1 L537.7,143.5 L537.8,142.9 L537.9,142.3 L538.1,141.7 L538.2,141.1 L538.3,140.5 L538.4,139.9 L538.5,139.3 L538.6,138.8 L538.7,138.2 L538.8,137.6 L539.0,137.0 L539.1,136.4 L539.2,135.8 L539.3,135.2 L539.4,134.6 L539.5,134.0 L539.6,133.4 L539.7,132.8 L539.8,132.2 L539.9,131.6 L540.0,131.0 L540.1,130.4 L540.2,129.8 L540.4,129.2 L540.5,128.7 L540.7,128.1 L540.9,127.5 L541.1,127.0 L541.4,126.5 L541.6,126.0 L541.9,125.4 L542.3,124.9 L542.6,124.4 L542.9,123.9 L543.3,123.4 L543.7,123.0 L544.0,122.5 L544.4,122.0 L544.7,121.5 L545.1,121.0 L545.4,120.4 L545.7,119.9 L545.9,119.4 L546.2,118.9 L546.4,118.3 L546.7,117.8 L546.9,117.2 L547.1,116.7 L547.3,116.1 L547.4,115.5 L547.6,114.9 L547.8,114.4 L547.9,113.8 L548.1,113.2 L548.3,112.6 L548.4,112.0 L548.6,111.4 L548.7,110.9 L548.9,110.3 L549.0,109.7 L549.2,109.1 L549.4,108.5 L549.6,108.0 L549.7,107.4 L549.9,106.8 L550.1,106.2 L550.3,105.7 L550.5,105.1 L550.7,104.5 L551.0,104.0 L551.2,103.4 L551.4,102.9 L551.6,102.3 L551.8,101.7 L552.1,101.2 L552.3,100.6 L552.5,100.1 L552.8,99.5 L553.0,99.0 L553.2,98.4 L553.5,97.9 L553.7,97.3 L553.9,96.8 L554.2,96.2 L554.4,95.7 L554.6,95.1 L554.9,94.6 L555.1,94.0 L555.3,93.5 L555.6,92.9 L555.8,92.4 L556.0,91.8 L556.3,91.3 L556.5,90.7 L556.8,90.2 L557.1,89.6 L557.4,89.1 L557.7,88.6 L558.0,88.1 L558.4,87.6 L558.8,87.1 L559.2,86.6 L559.7,86.1 L560.2,85.8 L560.7,85.5 L561.2,85.5 L561.8,85.5 L562.4,85.6 L563.0,85.8 L563.6,86.1 L564.1,86.3 L564.6,86.6 L565.1,87.0 L565.5,87.4 L565.9,87.8 L566.3,88.3 L566.7,88.8 L567.0,89.3 L567.3,89.9 L567.6,90.4 L567.9,91.0 L568.2,91.5 L568.4,92.1 L568.7,92.6 L568.9,93.2 L569.1,93.7 L569.4,94.3 L569.6,94.8 L569.8,95.4 L570.0,96.0 L570.2,96.5 L570.4,97.1 L570.6,97.7 L570.8,98.2 L570.9,98.8 L571.1,99.4 L571.3,100.0 L571.5,100.5 L571.7,101.1 L571.9,101.7 L572.1,102.3 L572.3,102.8 L572.5,103.4 L572.7,104.0 L572.8,104.5 L573.0,105.1 L573.2,105.7 L573.4,106.2 L573.6,106.8 L573.8,107.4 L574.0,107.9 L574.2,108.5 L574.4,109.1 L574.6,109.6 L574.8,110.2 L575.0,110.8 L575.2,111.3 L575.3,111.9 L575.5,112.5 L575.7,113.1 L575.9,113.6 L576.0,114.2 L576.2,114.8 L576.3,115.4 L576.5,115.9 L576.6,116.5 L576.8,117.1 L576.9,117.7 L577.1,118.3 L577.2,118.9 L577.4,119.4 L577.5,120.0 L577.7,120.6 L577.8,121.2 L578.0,121.8 L578.1,122.3 L578.3,122.9 L578.4,123.5 L578.6,124.1 L578.8,124.7 L578.9,125.2 L579.1,125.8 L579.3,126.4 L579.5,127.0 L579.7,127.5 L579.8,128.1 L580.0,128.7 L580.2,129.2 L580.4,129.8 L580.6,130.4 L580.8,130.9 L581.0,131.5 L581.2,132.1 L581.4,132.7 L581.5,133.2 L581.7,133.8 L581.9,134.4 L582.1,134.9 L582.3,135.5 L582.5,136.1 L582.7,136.6 L582.9,137.2 L583.1,137.8 L583.3,138.3 L583.5,138.9 L583.7,139.5 L583.9,140.0 L584.1,140.6 L584.3,141.2 L584.5,141.7 L584.7,142.3 L585.0,142.8 L585.2,143.4 L585.4,144.0 L585.6,144.5 L585.8,145.1 L586.1,145.6 L586.3,146.2 L586.5,146.7 L586.7,147.3 L587.0,147.8 L587.2,148.4 L587.4,149.0 L587.7,149.5 L587.9,150.1 L588.2,150.6 L588.4,151.1 L588.7,151.7 L588.9,152.2 L589.2,152.8 L589.4,153.3 L589.7,153.9 L590.0,154.4 L590.3,154.9 L590.5,155.5 L590.8,156.0 L591.1,156.5 L591.4,157.0 L591.7,157.6 L592.0,158.1 L592.3,158.6 L592.6,159.1 L593.0,159.6 L593.3,160.1 L593.7,160.6 L594.0,161.1 L594.4,161.5 L594.8,162.0 L595.2,162.5 L595.5,162.9 L596.0,163.4 L596.4,163.8 L596.8,164.3 L597.2,164.7 L597.7,165.1 L598.1,165.5 L598.6,165.9 L599.0,166.3 L599.5,166.7 L600.0,167.0 L600.4,167.4 L600.9,167.7 L601.4,168.0 L601.9,168.4 L602.4,168.7 L602.9,169.0 L603.5,169.3 L604.0,169.6 L604.5,169.9 L605.1,170.1 L605.6,170.4 L606.2,170.7 L606.7,170.9 L607.3,171.1 L607.9,171.4 L608.4,171.6 L609.0,171.8 L609.6,172.0 L610.1,172.2 L610.7,172.4 L611.3,172.5 L611.9,172.7 L612.4,172.8 L613.0,173.0 L613.6,173.1 L614.2,173.2 L614.8,173.4 L615.4,173.5 L615.9,173.6 L616.5,173.7 L617.1,173.8 L617.7,173.9 L618.3,174.0 L618.9,174.1 L619.5,174.1 L620.1,174.2 L620.7,174.3 L621.3,174.4 L621.9,174.4 L622.5,174.5 L623.1,174.6 L623.7,174.6 L624.3,174.7 L624.9,174.7 L625.5,174.7 L626.1,174.8 L626.7,174.8 L627.3,174.9 L627.9,174.9 L628.5,174.9 L629.1,175.0 L629.7,175.0 L630.3,175.0 L630.9,175.0 L631.5,175.1 L632.1,175.1 L632.7,175.1 L633.3,175.1 L633.9,175.2 L634.5,175.2 L635.1,175.2 L635.7,175.2 L636.3,175.3 L636.9,175.3 L637.5,175.3 L638.1,175.3 L638.7,175.3 L639.3,175.3 L639.9,175.4 L640.5,175.4 L641.1,175.4 L641.7,175.4 L642.3,175.4 L642.9,175.5 L643.5,175.5 L644.1,175.5 L644.7,175.5 L645.3,175.5 L645.9,175.5 L646.5,175.6 L647.1,175.6 L647.7,175.6 L648.3,175.6 L648.9,175.7 L649.5,175.7 L650.1,175.7 L650.7,175.7 L651.3,175.8 L651.9,175.8 L652.5,175.8 L653.1,175.9 L653.7,175.9 L654.3,175.9 L654.9,176.0 L655.5,176.0 L656.1,176.0 L656.7,176.1 L657.3,176.1 L657.9,176.1 L658.5,176.2 L659.1,176.2 L659.7,176.3 L660.3,176.3 L660.9,176.4 L661.5,176.4 L662.1,176.4 L662.7,176.5 L663.3,176.5 L663.9,176.6 L664.5,176.6 L665.1,176.6 L665.7,176.7 L666.3,176.7 L666.8,176.8 L667.4,176.8 L668.0,176.9 L668.6,176.9 L669.2,176.9 L669.8,177.0 L670.4,177.0 L671.0,177.1 L671.6,177.1 L672.2,177.1 L672.8,177.2 L673.4,177.2 L674.0,177.3 L674.6,177.3 L675.2,177.3 L675.8,177.4 L676.4,177.4 L677.0,177.4 L677.6,177.5 L678.2,177.5 L678.8,177.5 L679.4,177.5 L679.8,177.6 L679.8,177.6" stroke="#1b79c2" stroke-width="1.45"/>
</g>
<line x1="373.8" x2="679.8" y1="200.9" y2="200.9" stroke="#000" stroke-width="1.6"/>
<path d="M384.73,226.4v-3.5M384.73,3.6v3.5M395.66,226.4v-3.5M395.66,3.6v3.5M406.59,226.4v-3.5M406.59,3.6v3.5M417.51,226.4v-5.5M417.51,3.6v5.5M428.44,226.4v-3.5M428.44,3.6v3.5M439.37,226.4v-3.5M439.37,3.6v3.5M450.30,226.4v-3.5M450.30,3.6v3.5M461.23,226.4v-3.5M461.23,3.6v3.5M472.16,226.4v-5.5M472.16,3.6v5.5M483.09,226.4v-3.5M483.09,3.6v3.5M494.01,226.4v-3.5M494.01,3.6v3.5M504.94,226.4v-3.5M504.94,3.6v3.5M515.87,226.4v-3.5M515.87,3.6v3.5M526.80,226.4v-5.5M526.80,3.6v5.5M537.73,226.4v-3.5M537.73,3.6v3.5M548.66,226.4v-3.5M548.66,3.6v3.5M559.59,226.4v-3.5M559.59,3.6v3.5M570.51,226.4v-3.5M570.51,3.6v3.5M581.44,226.4v-5.5M581.44,3.6v5.5M592.37,226.4v-3.5M592.37,3.6v3.5M603.30,226.4v-3.5M603.30,3.6v3.5M614.23,226.4v-3.5M614.23,3.6v3.5M625.16,226.4v-3.5M625.16,3.6v3.5M636.09,226.4v-5.5M636.09,3.6v5.5M647.01,226.4v-3.5M647.01,3.6v3.5M657.94,226.4v-3.5M657.94,3.6v3.5M668.87,226.4v-3.5M668.87,3.6v3.5M373.8,224.12h3.5M679.8,224.12h-3.5M373.8,200.90h5.5M679.8,200.90h-5.5M373.8,177.68h3.5M679.8,177.68h-3.5M373.8,154.46h5.5M679.8,154.46h-5.5M373.8,131.24h3.5M679.8,131.24h-3.5M373.8,108.02h5.5M679.8,108.02h-5.5M373.8,84.80h3.5M679.8,84.80h-3.5M373.8,61.58h5.5M679.8,61.58h-5.5M373.8,38.36h3.5M679.8,38.36h-3.5M373.8,15.14h5.5M679.8,15.14h-5.5" stroke="#000" stroke-width="1.35" fill="none"/>
<rect x="373.8" y="3.6" width="306.0" height="222.8" fill="none" stroke="#000" stroke-width="2.0"/>
<text x="417.5" y="242.1" font-size="12.4" text-anchor="middle" textLength="21.2" lengthAdjust="spacingAndGlyphs">640</text>
<text x="472.2" y="242.1" font-size="12.4" text-anchor="middle" textLength="21.2" lengthAdjust="spacingAndGlyphs">645</text>
<text x="526.8" y="242.1" font-size="12.4" text-anchor="middle" textLength="21.2" lengthAdjust="spacingAndGlyphs">650</text>
<text x="581.4" y="242.1" font-size="12.4" text-anchor="middle" textLength="21.2" lengthAdjust="spacingAndGlyphs">655</text>
<text x="636.1" y="242.1" font-size="12.4" text-anchor="middle" textLength="21.2" lengthAdjust="spacingAndGlyphs">660</text>
<text x="368.4" y="204.4" font-size="13.3" text-anchor="end" textLength="7.2" lengthAdjust="spacingAndGlyphs">0</text>
<text x="368.4" y="158.0" font-size="13.3" text-anchor="end" textLength="7.2" lengthAdjust="spacingAndGlyphs">2</text>
<text x="368.4" y="111.5" font-size="13.3" text-anchor="end" textLength="7.2" lengthAdjust="spacingAndGlyphs">4</text>
<text x="368.4" y="65.1" font-size="13.3" text-anchor="end" textLength="7.2" lengthAdjust="spacingAndGlyphs">6</text>
<text x="368.4" y="18.6" font-size="13.3" text-anchor="end" textLength="7.2" lengthAdjust="spacingAndGlyphs">8</text>
<text x="526.8" y="256.4" font-size="13.1" text-anchor="middle" textLength="127.8" lengthAdjust="spacingAndGlyphs">Excitation Energy (eV)</text>
<text transform="translate(354.6,114.6) rotate(-90)" font-size="13.6" text-anchor="middle" textLength="66.3" lengthAdjust="spacingAndGlyphs">TEY (norm.)</text>
<text y="29.2" font-size="21.4" fill="#e41a1c"><tspan x="598.9" textLength="10.0" lengthAdjust="spacingAndGlyphs" stroke="#e41a1c" stroke-width="0.45">x</tspan><tspan x="609.6" dy="4.9" font-size="14.4" textLength="15.8" lengthAdjust="spacingAndGlyphs">Ca</tspan><tspan x="625.4" dy="-4.9" textLength="41.7" lengthAdjust="spacingAndGlyphs">=0.5</tspan></text>
<text x="462.4" y="55.0" font-size="21.4" fill="#1f78c1" textLength="214.2" lengthAdjust="spacingAndGlyphs">0.625 × I<tspan font-size="14.4" dy="4.9">0</tspan><tspan dy="-4.9"> + 0.375 × I</tspan><tspan font-size="14.4" dy="4.9">0.8</tspan></text>
</g>
<g id="panel3">
<path d="M756.2,211.8 L756.4,212.4 L756.7,212.9 L756.9,213.4 L757.2,214.0 L757.5,214.5 L757.7,215.1 L758.0,215.6 L758.3,216.2 L758.6,216.7 L758.9,217.2 L759.2,217.6 L759.7,218.1 L760.2,218.5 L760.7,218.6 L761.2,218.2 L761.6,217.7 L762.0,217.3 L762.3,216.8 L762.6,216.3 L762.9,215.7 L763.2,215.2 L763.5,214.6 L763.7,213.9 L763.9,213.2 L764.2,212.6 L764.5,212.1 L764.8,211.8 L765.3,211.8 L765.9,211.8 L766.2,211.6 L766.5,211.3 L766.8,210.8 L767.0,210.3 L767.2,209.6 L767.4,208.9 L767.6,208.2 L767.9,207.5 L768.1,206.8 L768.4,206.3 L768.7,205.7 L769.1,205.2 L769.4,204.6 L769.8,204.2 L770.2,203.8 L770.7,203.6 L771.3,203.5 L771.9,203.4 L772.5,203.4 L773.1,203.3 L773.8,203.2 L774.4,203.1 L774.9,202.9 L775.4,202.6 L775.9,202.3 L776.4,201.9 L776.8,201.5 L777.3,201.1 L777.8,200.7 L778.3,200.2 L778.8,199.7 L779.3,199.3 L779.7,199.1 L780.2,199.0 L780.7,199.1 L781.2,199.5 L781.7,199.9 L782.1,200.4 L782.6,200.9 L783.0,201.3 L783.3,201.8 L783.7,202.3 L784.0,202.8 L784.3,203.3 L784.6,203.9 L784.8,204.4 L785.1,204.9 L785.4,205.5 L785.7,206.0 L786.1,206.5 L786.4,207.0 L786.7,207.6 L787.0,208.2 L787.3,208.7 L787.7,209.2 L788.0,209.7 L788.4,210.1 L788.8,210.4 L789.3,210.7 L789.8,211.0 L790.4,211.2 L791.0,211.4 L791.6,211.6 L792.2,211.7 L792.8,211.8 L793.4,211.8 L794.0,211.8 L794.5,211.7 L795.1,211.6 L795.7,211.5 L796.3,211.4 L796.9,211.3 L797.5,211.2 L798.1,211.1 L798.7,211.0 L799.3,210.9 L799.9,210.8 L800.5,210.8 L801.1,210.8 L801.7,210.8 L802.3,210.8 L802.9,210.8 L803.5,210.8 L804.1,210.8 L804.7,210.8 L805.3,210.8 L805.9,210.8 L806.5,210.8 L807.1,210.8 L807.7,210.8 L808.3,210.8 L808.9,210.8 L809.5,210.8 L810.1,210.8 L810.7,210.8 L811.3,210.8 L811.9,210.8 L812.5,210.8 L813.1,210.8 L813.7,210.8 L814.3,210.8 L814.9,210.8 L815.5,210.8 L816.1,210.8 L816.7,210.8 L817.3,210.8 L817.9,210.8 L818.5,210.8 L819.1,210.8 L819.7,210.8 L820.3,210.8 L820.9,210.8 L821.5,210.8 L822.1,210.8 L822.7,210.8 L823.3,210.8 L823.9,210.8 L824.5,210.8 L825.1,210.8 L825.7,210.8 L826.3,210.8 L826.9,210.8 L827.5,210.8 L828.1,210.8 L828.7,210.8 L829.3,210.8 L829.9,210.8 L830.5,210.8 L831.1,210.8 L831.7,210.8 L832.3,210.8 L832.9,210.8 L833.5,210.9 L834.1,210.9 L834.7,211.0 L835.3,211.0 L835.9,211.1 L836.5,211.1 L837.1,211.2 L837.7,211.2 L838.3,211.3 L838.9,211.4 L839.5,211.4 L840.1,211.5 L840.7,211.5 L841.3,211.6 L841.9,211.6 L842.5,211.7 L843.1,211.7 L843.7,211.7 L844.3,211.8 L844.9,211.8 L845.5,211.8 L846.1,211.8 L846.7,211.8 L847.3,211.8 L847.9,211.8 L848.5,211.8 L849.1,211.8 L849.7,211.8 L850.3,211.8 L850.9,211.8 L851.5,211.8 L852.1,211.7 L852.7,211.7 L853.3,211.7 L853.9,211.7 L854.5,211.7 L855.1,211.7 L855.7,211.7 L856.3,211.7 L856.9,211.6 L857.5,211.6 L858.2,211.6 L858.8,211.6 L859.4,211.6 L860.0,211.5 L860.6,211.5 L861.2,211.5 L861.8,211.5 L862.4,211.4 L863.0,211.4 L863.6,211.4 L864.2,211.3 L864.8,211.3 L865.4,211.3 L866.0,211.2 L866.6,211.2 L867.2,211.2 L867.8,211.1 L868.4,211.1 L869.0,211.1 L869.6,211.0 L870.2,211.0 L870.8,210.9 L871.4,210.9 L871.9,210.8 L872.5,210.8 L873.1,210.7 L873.7,210.7 L874.3,210.6 L874.9,210.6 L875.5,210.5 L876.1,210.5 L876.6,210.4 L877.2,210.2 L877.8,210.0 L878.4,209.7 L878.9,209.5 L879.5,209.3 L880.1,209.1 L880.6,209.0 L881.2,209.0 L881.8,209.0 L882.4,209.1 L883.0,209.2 L883.6,209.3 L884.2,209.4 L884.8,209.4 L885.4,209.5 L886.0,209.5 L886.6,209.5 L887.2,209.4 L887.8,209.3 L888.4,209.2 L889.0,209.0 L889.5,208.9 L890.1,208.7 L890.7,208.6 L891.3,208.4 L891.9,208.3 L892.5,208.2 L893.1,208.0 L893.7,207.9 L894.2,207.7 L894.8,207.6 L895.4,207.4 L896.0,207.3 L896.6,207.3 L897.2,207.3 L897.8,207.3 L898.4,207.3 L899.0,207.4 L899.6,207.5 L900.2,207.6 L900.8,207.7 L901.4,207.8 L901.9,208.0 L902.5,208.1 L903.1,208.2 L903.7,208.4 L904.3,208.5 L904.8,208.7 L905.4,208.9 L906.0,209.1 L906.6,209.3 L907.1,209.5 L907.7,209.7 L908.2,210.0 L908.8,210.3 L909.3,210.5 L909.9,210.8 L910.5,210.9 L911.0,211.0 L911.6,211.1 L912.2,211.1 L912.7,211.2 L913.3,211.2 L913.9,211.2 L914.5,211.3 L915.1,211.3 L915.6,211.4 L916.2,211.4 L916.8,211.4 L917.4,211.5 L918.0,211.5 L918.6,211.5 L919.2,211.6 L919.8,211.6 L920.4,211.6 L921.0,211.6 L921.6,211.7 L922.2,211.7 L922.8,211.7 L923.4,211.7 L924.0,211.7 L924.6,211.7 L925.2,211.7 L925.8,211.8 L926.4,211.8 L927.0,211.8 L927.7,211.8 L928.3,211.8 L928.9,211.8 L929.5,211.8 L930.2,211.8 L930.8,211.8 L930.9,211.8 L930.9,211.8 L756.2,211.8 Z" fill="#1b79c2" stroke="#1b79c2" stroke-width="0.4"/>
<clipPath id="c2"><rect x="715.0" y="3.6" width="306.0" height="222.8"/></clipPath>
<g clip-path="url(#c2)" fill="none" stroke-linejoin="round" stroke-linecap="round">
<path d="M715.9,211.5 L716.5,211.5 L717.1,211.4 L717.7,211.4 L718.3,211.3 L718.9,211.3 L719.5,211.3 L720.1,211.3 L720.7,211.3 L721.3,211.2 L721.9,211.2 L722.5,211.2 L723.1,211.2 L723.7,211.2 L724.3,211.2 L724.9,211.2 L725.5,211.2 L726.1,211.2 L726.7,211.2 L727.3,211.1 L727.9,211.1 L728.5,211.1 L729.1,211.1 L729.7,211.0 L730.3,211.0 L730.9,211.0 L731.5,210.9 L732.1,210.8 L732.7,210.7 L733.3,210.6 L733.9,210.5 L734.5,210.4 L735.1,210.3 L735.6,210.1 L736.2,209.9 L736.8,209.7 L737.3,209.5 L737.9,209.3 L738.4,209.0 L739.0,208.7 L739.5,208.4 L740.0,208.1 L740.5,207.8 L741.0,207.4 L741.5,207.0 L742.0,206.7 L742.4,206.3 L742.8,205.9 L743.2,205.4 L743.6,205.0 L744.0,204.5 L744.3,204.0 L744.7,203.5 L745.0,203.0 L745.3,202.5 L745.6,202.0 L745.9,201.4 L746.2,200.9 L746.5,200.4 L746.8,199.8 L747.1,199.3 L747.3,198.8 L747.6,198.2 L747.8,197.7 L748.1,197.1 L748.3,196.6 L748.6,196.0 L748.8,195.5 L749.0,194.9 L749.2,194.3 L749.4,193.8 L749.6,193.2 L749.8,192.6 L750.0,192.1 L750.2,191.5 L750.4,190.9 L750.6,190.4 L750.8,189.8 L751.0,189.2 L751.2,188.7 L751.4,188.1 L751.5,187.5 L751.7,186.9 L751.8,186.3 L752.0,185.8 L752.1,185.2 L752.2,184.6 L752.3,184.0 L752.4,183.4 L752.4,182.8 L752.5,182.2 L752.6,181.6 L752.6,181.0 L752.7,180.4 L752.8,179.8 L752.8,179.2 L752.9,178.6 L753.0,178.0 L753.0,177.4 L753.1,176.8 L753.2,176.2 L753.3,175.6 L753.4,175.0 L753.4,174.5 L753.5,173.9 L753.6,173.3 L753.7,172.7 L753.8,172.1 L753.9,171.5 L754.0,170.9 L754.1,170.3 L754.2,169.7 L754.3,169.1 L754.4,168.5 L754.5,167.9 L754.6,167.3 L754.6,166.7 L754.7,166.2 L754.8,165.6 L754.9,165.0 L755.0,164.4 L755.1,163.8 L755.2,163.2 L755.2,162.6 L755.3,162.0 L755.4,161.4 L755.5,160.8 L755.5,160.2 L755.6,159.6 L755.7,159.0 L755.8,158.4 L755.8,157.8 L755.9,157.2 L756.0,156.6 L756.1,156.0 L756.1,155.4 L756.2,154.8 L756.3,154.3 L756.3,153.7 L756.4,153.1 L756.5,152.5 L756.5,151.9 L756.6,151.3 L756.6,150.7 L756.7,150.1 L756.7,149.5 L756.8,148.9 L756.9,148.3 L756.9,147.7 L757.0,147.1 L757.0,146.5 L757.1,145.9 L757.1,145.3 L757.2,144.7 L757.2,144.1 L757.3,143.5 L757.3,142.9 L757.4,142.3 L757.4,141.7 L757.5,141.1 L757.5,140.5 L757.6,139.9 L757.6,139.3 L757.6,138.7 L757.7,138.1 L757.7,137.5 L757.8,136.9 L757.8,136.3 L757.9,135.7 L757.9,135.1 L757.9,134.5 L758.0,133.9 L758.0,133.3 L758.0,132.7 L758.1,132.1 L758.1,131.5 L758.1,130.9 L758.2,130.3 L758.2,129.7 L758.3,129.1 L758.3,128.5 L758.3,127.9 L758.4,127.3 L758.4,126.7 L758.4,126.1 L758.5,125.5 L758.5,124.9 L758.5,124.3 L758.6,123.7 L758.6,123.1 L758.7,122.5 L758.7,121.9 L758.7,121.3 L758.8,120.8 L758.8,120.2 L758.9,119.6 L758.9,119.0 L759.0,118.4 L759.0,117.8 L759.1,117.2 L759.1,116.6 L759.2,116.0 L759.2,115.4 L759.3,114.8 L759.3,114.2 L759.4,113.6 L759.4,113.0 L759.5,112.4 L759.5,111.8 L759.6,111.2 L759.7,110.6 L759.7,110.0 L759.7,109.4 L759.8,108.8 L759.8,108.2 L759.9,107.6 L759.9,107.0 L760.0,106.4 L760.0,105.8 L760.1,105.2 L760.1,104.6 L760.2,104.0 L760.2,103.4 L760.3,102.8 L760.3,102.2 L760.4,101.6 L760.5,101.0 L760.5,100.4 L760.6,99.8 L760.7,99.2 L760.7,98.6 L760.8,98.0 L760.9,97.4 L761.0,96.9 L761.1,96.3 L761.2,95.7 L761.3,95.1 L761.4,94.5 L761.6,93.9 L761.7,93.3 L761.8,92.7 L762.0,92.2 L762.1,91.6 L762.3,91.0 L762.4,90.4 L762.6,89.8 L762.8,89.3 L762.9,88.7 L763.1,88.1 L763.3,87.5 L763.5,87.0 L763.6,86.4 L763.8,85.8 L764.0,85.2 L764.2,84.7 L764.4,84.1 L764.5,83.5 L764.7,82.9 L764.9,82.4 L765.0,81.8 L765.2,81.2 L765.3,80.6 L765.5,80.1 L765.6,79.5 L765.8,78.9 L765.9,78.3 L766.0,77.7 L766.1,77.1 L766.2,76.5 L766.3,75.9 L766.4,75.3 L766.5,74.7 L766.6,74.1 L766.7,73.5 L766.8,72.9 L766.9,72.3 L767.1,71.8 L767.2,71.2 L767.3,70.6 L767.5,70.0 L767.6,69.4 L767.8,68.9 L767.9,68.3 L768.1,67.7 L768.3,67.2 L768.5,66.6 L768.8,66.1 L769.0,65.5 L769.3,65.0 L769.6,64.5 L769.9,63.9 L770.1,63.4 L770.4,62.9 L770.6,62.3 L770.9,61.8 L771.1,61.3 L771.3,60.7 L771.6,60.2 L771.8,59.6 L772.0,59.1 L772.2,58.5 L772.4,58.0 L772.6,57.4 L772.7,56.8 L772.9,56.3 L773.0,55.7 L773.2,55.1 L773.3,54.5 L773.4,53.9 L773.5,53.3 L773.7,52.7 L773.8,52.1 L774.0,51.6 L774.1,51.0 L774.3,50.5 L774.5,49.9 L774.7,49.4 L775.0,48.9 L775.3,48.4 L775.6,47.9 L776.0,47.4 L776.4,47.0 L776.8,46.5 L777.2,46.1 L777.6,45.6 L777.9,45.1 L778.2,44.6 L778.5,44.1 L778.8,43.6 L779.0,43.0 L779.2,42.5 L779.4,41.9 L779.6,41.4 L779.8,40.8 L780.0,40.2 L780.1,39.6 L780.3,39.0 L780.4,38.4 L780.6,37.8 L780.7,37.2 L780.8,36.6 L781.0,36.0 L781.1,35.5 L781.3,34.9 L781.4,34.3 L781.6,33.7 L781.7,33.1 L781.9,32.5 L782.0,31.9 L782.2,31.3 L782.3,30.7 L782.5,30.1 L782.6,29.6 L782.8,29.0 L783.0,28.4 L783.1,27.8 L783.3,27.2 L783.5,26.7 L783.7,26.1 L783.8,25.5 L784.0,25.0 L784.2,24.4 L784.4,23.9 L784.7,23.4 L784.9,22.8 L785.1,22.3 L785.4,21.7 L785.6,21.2 L785.9,20.7 L786.3,20.1 L786.6,19.6 L787.0,19.1 L787.4,18.6 L787.9,18.2 L788.4,18.0 L788.9,18.1 L789.4,18.5 L789.8,19.0 L790.3,19.5 L790.6,20.0 L790.9,20.5 L791.2,21.0 L791.5,21.6 L791.7,22.1 L792.0,22.7 L792.2,23.2 L792.4,23.8 L792.6,24.3 L792.8,24.9 L793.0,25.4 L793.1,26.0 L793.3,26.6 L793.5,27.1 L793.6,27.7 L793.8,28.3 L793.9,28.9 L794.1,29.4 L794.2,30.0 L794.4,30.6 L794.5,31.2 L794.7,31.8 L794.8,32.4 L794.9,33.0 L795.1,33.6 L795.2,34.2 L795.3,34.8 L795.4,35.4 L795.6,36.0 L795.7,36.6 L795.8,37.1 L796.0,37.7 L796.1,38.3 L796.2,38.9 L796.3,39.5 L796.5,40.1 L796.6,40.7 L796.7,41.3 L796.8,41.9 L796.9,42.5 L797.1,43.0 L797.2,43.6 L797.3,44.2 L797.4,44.8 L797.5,45.4 L797.7,46.0 L797.8,46.6 L797.9,47.2 L798.0,47.7 L798.1,48.3 L798.2,48.9 L798.4,49.5 L798.5,50.1 L798.7,50.7 L798.8,51.3 L798.9,51.9 L799.0,52.5 L799.2,53.1 L799.3,53.6 L799.4,54.2 L799.5,54.8 L799.6,55.4 L799.8,56.0 L799.9,56.6 L800.0,57.2 L800.1,57.8 L800.2,58.4 L800.3,59.0 L800.4,59.6 L800.5,60.2 L800.6,60.8 L800.8,61.4 L800.9,62.0 L801.0,62.6 L801.1,63.2 L801.2,63.8 L801.3,64.4 L801.3,65.0 L801.4,65.6 L801.5,66.2 L801.6,66.7 L801.6,67.3 L801.7,67.9 L801.8,68.5 L801.9,69.1 L801.9,69.7 L802.0,70.3 L802.1,70.9 L802.2,71.5 L802.2,72.1 L802.3,72.7 L802.4,73.3 L802.5,73.9 L802.6,74.5 L802.6,75.1 L802.7,75.7 L802.8,76.3 L802.9,76.9 L803.0,77.5 L803.1,78.0 L803.2,78.6 L803.3,79.2 L803.4,79.8 L803.5,80.4 L803.6,81.0 L803.7,81.6 L803.8,82.2 L803.9,82.8 L804.0,83.4 L804.1,83.9 L804.3,84.5 L804.4,85.1 L804.5,85.7 L804.6,86.3 L804.8,86.9 L804.9,87.5 L805.0,88.1 L805.1,88.6 L805.3,89.2 L805.4,89.8 L805.5,90.4 L805.7,91.0 L805.8,91.6 L805.9,92.2 L806.1,92.7 L806.2,93.3 L806.3,93.9 L806.5,94.5 L806.6,95.1 L806.7,95.7 L806.9,96.2 L807.0,96.8 L807.1,97.4 L807.3,98.0 L807.4,98.6 L807.5,99.2 L807.6,99.8 L807.8,100.4 L807.9,100.9 L808.0,101.5 L808.2,102.1 L808.3,102.7 L808.4,103.3 L808.5,103.9 L808.7,104.5 L808.8,105.0 L808.9,105.6 L809.1,106.2 L809.2,106.8 L809.3,107.4 L809.5,108.0 L809.6,108.6 L809.7,109.1 L809.9,109.7 L810.0,110.3 L810.2,110.9 L810.3,111.5 L810.5,112.0 L810.6,112.6 L810.8,113.2 L810.9,113.8 L811.1,114.4 L811.2,114.9 L811.4,115.5 L811.6,116.1 L811.7,116.7 L811.9,117.3 L812.1,117.8 L812.2,118.4 L812.4,119.0 L812.6,119.6 L812.7,120.1 L812.9,120.7 L813.0,121.3 L813.2,121.9 L813.3,122.5 L813.4,123.1 L813.6,123.6 L813.7,124.2 L813.8,124.8 L813.9,125.4 L814.0,126.0 L814.1,126.6 L814.2,127.2 L814.3,127.8 L814.4,128.4 L814.5,129.0 L814.6,129.5 L814.7,130.1 L814.8,130.7 L815.0,131.3 L815.1,131.9 L815.2,132.5 L815.3,133.1 L815.5,133.7 L815.6,134.2 L815.7,134.8 L815.9,135.4 L816.0,136.0 L816.1,136.6 L816.3,137.2 L816.4,137.7 L816.6,138.3 L816.8,138.9 L816.9,139.5 L817.1,140.1 L817.2,140.6 L817.4,141.2 L817.6,141.8 L817.8,142.4 L817.9,142.9 L818.1,143.5 L818.3,144.1 L818.5,144.7 L818.7,145.2 L818.9,145.8 L819.1,146.4 L819.3,146.9 L819.5,147.5 L819.7,148.0 L819.9,148.6 L820.1,149.2 L820.4,149.7 L820.6,150.3 L820.8,150.8 L821.1,151.4 L821.3,151.9 L821.6,152.5 L821.8,153.0 L822.1,153.6 L822.3,154.1 L822.6,154.7 L822.9,155.2 L823.1,155.7 L823.4,156.3 L823.7,156.8 L824.0,157.3 L824.3,157.9 L824.6,158.4 L824.9,158.9 L825.2,159.4 L825.5,159.9 L825.8,160.4 L826.1,160.9 L826.4,161.5 L826.7,162.0 L827.1,162.5 L827.4,163.0 L827.7,163.4 L828.1,163.9 L828.4,164.4 L828.8,164.9 L829.1,165.4 L829.5,165.9 L829.9,166.4 L830.3,166.8 L830.6,167.3 L831.0,167.8 L831.4,168.2 L831.8,168.7 L832.2,169.2 L832.6,169.6 L833.0,170.1 L833.4,170.5 L833.8,171.0 L834.2,171.4 L834.6,171.9 L835.0,172.3 L835.4,172.8 L835.8,173.2 L836.3,173.6 L836.7,174.1 L837.1,174.5 L837.6,174.9 L838.0,175.3 L838.5,175.7 L838.9,176.1 L839.4,176.5 L839.8,176.9 L840.3,177.3 L840.8,177.6 L841.3,178.0 L841.8,178.3 L842.3,178.6 L842.8,178.9 L843.3,179.2 L843.8,179.5 L844.3,179.8 L844.8,180.0 L845.4,180.3 L845.9,180.5 L846.5,180.8 L847.0,181.0 L847.6,181.2 L848.1,181.4 L848.7,181.6 L849.3,181.9 L849.8,182.1 L850.4,182.3 L851.0,182.5 L851.6,182.7 L852.1,182.9 L852.7,183.1 L853.3,183.3 L853.9,183.5 L854.4,183.7 L855.0,183.9 L855.6,184.1 L856.1,184.3 L856.7,184.5 L857.3,184.7 L857.9,184.8 L858.5,185.0 L859.0,185.1 L859.6,185.2 L860.2,185.2 L860.8,185.2 L861.4,185.2 L862.0,185.1 L862.6,185.0 L863.2,184.9 L863.8,184.7 L864.3,184.5 L864.9,184.2 L865.4,183.8 L865.9,183.5 L866.3,183.1 L866.8,182.6 L867.2,182.2 L867.5,181.8 L867.9,181.3 L868.2,180.9 L868.6,180.4 L868.9,179.9 L869.2,179.4 L869.5,178.8 L869.8,178.3 L870.0,177.7 L870.3,177.2 L870.5,176.6 L870.8,176.1 L871.0,175.5 L871.3,174.9 L871.5,174.3 L871.7,173.8 L871.9,173.2 L872.1,172.6 L872.4,172.1 L872.6,171.5 L872.8,170.9 L873.0,170.4 L873.2,169.8 L873.4,169.2 L873.6,168.7 L873.9,168.1 L874.1,167.5 L874.3,167.0 L874.5,166.4 L874.7,165.9 L874.9,165.3 L875.1,164.7 L875.3,164.2 L875.4,163.6 L875.6,163.0 L875.8,162.5 L876.0,161.9 L876.2,161.3 L876.4,160.7 L876.6,160.2 L876.7,159.6 L876.9,159.0 L877.1,158.5 L877.3,157.9 L877.4,157.3 L877.6,156.7 L877.8,156.2 L878.0,155.6 L878.1,155.0 L878.3,154.4 L878.4,153.8 L878.6,153.3 L878.8,152.7 L878.9,152.1 L879.1,151.5 L879.2,150.9 L879.4,150.4 L879.5,149.8 L879.7,149.2 L879.8,148.6 L880.0,148.0 L880.1,147.5 L880.2,146.9 L880.4,146.3 L880.5,145.7 L880.7,145.1 L880.8,144.5 L880.9,143.9 L881.1,143.4 L881.2,142.8 L881.3,142.2 L881.5,141.6 L881.6,141.0 L881.8,140.5 L881.9,139.9 L882.1,139.3 L882.3,138.7 L882.4,138.1 L882.6,137.6 L882.8,137.0 L882.9,136.4 L883.1,135.8 L883.3,135.3 L883.5,134.7 L883.7,134.1 L883.9,133.6 L884.2,133.0 L884.4,132.5 L884.6,131.9 L884.8,131.4 L885.1,130.8 L885.3,130.3 L885.6,129.7 L885.8,129.2 L886.1,128.6 L886.4,128.1 L886.6,127.6 L886.9,127.0 L887.2,126.5 L887.5,126.0 L887.7,125.4 L888.0,124.9 L888.3,124.4 L888.5,123.8 L888.8,123.3 L889.0,122.7 L889.2,122.2 L889.4,121.6 L889.7,121.0 L889.9,120.5 L890.1,119.9 L890.3,119.3 L890.5,118.8 L890.7,118.2 L890.9,117.7 L891.1,117.1 L891.4,116.5 L891.6,116.0 L891.8,115.4 L892.1,114.9 L892.3,114.3 L892.5,113.8 L892.8,113.2 L893.0,112.7 L893.3,112.1 L893.5,111.6 L893.7,111.0 L894.0,110.5 L894.2,109.9 L894.5,109.4 L894.7,108.8 L894.9,108.3 L895.2,107.7 L895.4,107.2 L895.7,106.6 L895.9,106.1 L896.1,105.5 L896.4,105.0 L896.6,104.4 L896.9,103.9 L897.2,103.3 L897.4,102.8 L897.7,102.3 L898.0,101.8 L898.3,101.2 L898.5,100.7 L898.8,100.2 L899.2,99.6 L899.5,99.1 L899.9,98.6 L900.2,98.2 L900.6,97.7 L901.1,97.4 L901.6,97.0 L902.1,96.6 L902.6,96.3 L903.2,96.1 L903.8,95.9 L904.4,95.8 L904.9,95.8 L905.5,95.8 L906.1,96.0 L906.7,96.2 L907.3,96.4 L907.8,96.7 L908.3,97.1 L908.7,97.5 L909.2,97.9 L909.6,98.4 L909.9,98.8 L910.3,99.3 L910.6,99.8 L910.9,100.3 L911.2,100.9 L911.4,101.4 L911.7,101.9 L911.9,102.5 L912.1,103.1 L912.3,103.6 L912.5,104.2 L912.7,104.8 L912.9,105.4 L913.1,105.9 L913.3,106.5 L913.5,107.1 L913.7,107.7 L913.8,108.2 L914.0,108.8 L914.2,109.4 L914.4,110.0 L914.5,110.6 L914.7,111.1 L914.9,111.7 L915.0,112.3 L915.2,112.9 L915.4,113.4 L915.6,114.0 L915.7,114.6 L915.9,115.2 L916.1,115.7 L916.3,116.3 L916.5,116.9 L916.7,117.4 L916.9,118.0 L917.1,118.6 L917.3,119.1 L917.5,119.7 L917.7,120.2 L918.0,120.8 L918.2,121.3 L918.5,121.9 L918.7,122.4 L918.9,123.0 L919.1,123.6 L919.3,124.1 L919.5,124.7 L919.7,125.3 L919.9,125.8 L920.0,126.4 L920.2,127.0 L920.4,127.5 L920.5,128.1 L920.7,128.7 L920.9,129.3 L921.0,129.9 L921.2,130.4 L921.3,131.0 L921.5,131.6 L921.6,132.2 L921.8,132.8 L922.0,133.3 L922.1,133.9 L922.3,134.5 L922.4,135.1 L922.6,135.7 L922.7,136.2 L922.9,136.8 L923.1,137.4 L923.2,138.0 L923.4,138.6 L923.5,139.1 L923.7,139.7 L923.9,140.3 L924.0,140.9 L924.2,141.5 L924.3,142.0 L924.5,142.6 L924.7,143.2 L924.8,143.8 L925.0,144.3 L925.2,144.9 L925.3,145.5 L925.5,146.1 L925.7,146.6 L925.8,147.2 L926.0,147.8 L926.2,148.4 L926.4,148.9 L926.5,149.5 L926.7,150.1 L926.9,150.7 L927.1,151.2 L927.3,151.8 L927.5,152.4 L927.6,152.9 L927.8,153.5 L928.0,154.1 L928.2,154.7 L928.4,155.2 L928.6,155.8 L928.8,156.4 L929.0,156.9 L929.2,157.5 L929.4,158.1 L929.6,158.6 L929.8,159.2 L930.0,159.7 L930.3,160.3 L930.5,160.9 L930.7,161.4 L931.0,162.0 L931.2,162.5 L931.4,163.0 L931.7,163.6 L932.0,164.1 L932.2,164.7 L932.5,165.2 L932.8,165.7 L933.1,166.3 L933.4,166.8 L933.7,167.3 L934.0,167.8 L934.4,168.3 L934.7,168.8 L935.0,169.3 L935.4,169.8 L935.8,170.2 L936.2,170.7 L936.6,171.1 L937.0,171.6 L937.4,172.0 L937.9,172.4 L938.3,172.8 L938.7,173.2 L939.2,173.6 L939.7,174.0 L940.1,174.4 L940.6,174.8 L941.1,175.1 L941.5,175.5 L942.0,175.9 L942.5,176.2 L943.0,176.6 L943.5,176.9 L944.0,177.2 L944.5,177.5 L945.0,177.9 L945.6,178.2 L946.1,178.5 L946.6,178.7 L947.1,179.0 L947.7,179.3 L948.2,179.5 L948.7,179.8 L949.3,180.1 L949.8,180.3 L950.4,180.6 L951.0,180.8 L951.5,181.0 L952.1,181.2 L952.7,181.5 L953.2,181.7 L953.8,181.9 L954.4,182.1 L955.0,182.2 L955.5,182.4 L956.1,182.6 L956.7,182.7 L957.3,182.8 L957.9,183.0 L958.4,183.1 L959.0,183.2 L959.6,183.2 L960.2,183.3 L960.8,183.4 L961.4,183.5 L962.0,183.5 L962.6,183.6 L963.2,183.6 L963.8,183.7 L964.4,183.7 L965.0,183.8 L965.6,183.8 L966.2,183.8 L966.8,183.9 L967.4,183.9 L968.0,183.9 L968.6,184.0 L969.2,184.0 L969.8,184.0 L970.4,184.0 L971.0,184.1 L971.6,184.1 L972.2,184.1 L972.8,184.1 L973.4,184.1 L974.0,184.2 L974.6,184.2 L975.2,184.2 L975.8,184.2 L976.4,184.3 L977.0,184.3 L977.6,184.3 L978.2,184.4 L978.8,184.4 L979.4,184.4 L980.0,184.5 L980.6,184.5 L981.2,184.5 L981.8,184.6 L982.4,184.6 L983.0,184.7 L983.6,184.7 L984.2,184.7 L984.8,184.8 L985.4,184.8 L986.0,184.9 L986.6,184.9 L987.2,184.9 L987.8,185.0 L988.4,185.0 L989.0,185.1 L989.6,185.1 L990.2,185.2 L990.8,185.2 L991.4,185.3 L992.0,185.3 L992.6,185.3 L993.2,185.4 L993.8,185.4 L994.4,185.5 L995.0,185.5 L995.6,185.6 L996.2,185.6 L996.8,185.6 L997.3,185.7 L997.9,185.7 L998.5,185.8 L999.1,185.8 L999.7,185.8 L1000.3,185.9 L1000.9,185.9 L1001.5,186.0 L1002.1,186.0 L1002.7,186.0 L1003.3,186.1 L1003.9,186.1 L1004.5,186.1 L1005.1,186.2 L1005.7,186.2 L1006.3,186.3 L1006.9,186.3 L1007.5,186.3 L1008.1,186.4 L1008.7,186.4 L1009.3,186.4 L1009.9,186.5 L1010.5,186.5 L1011.1,186.5 L1011.7,186.6 L1012.3,186.6 L1012.9,186.6 L1013.5,186.7 L1014.1,186.7 L1014.7,186.7 L1015.3,186.8 L1015.9,186.8 L1016.5,186.8 L1017.1,186.9 L1017.7,186.9 L1018.3,186.9 L1018.9,186.9 L1019.5,187.0 L1020.1,187.0 L1020.7,187.0 L1021.0,187.1 L1021.0,187.1" stroke="#e41a1c" stroke-width="1.45"/>
<path d="M715.9,211.5 L716.5,211.5 L717.1,211.4 L717.7,211.4 L718.3,211.3 L718.9,211.3 L719.5,211.3 L720.1,211.3 L720.7,211.3 L721.3,211.2 L721.9,211.2 L722.5,211.2 L723.1,211.2 L723.7,211.2 L724.3,211.2 L724.9,211.2 L725.5,211.2 L726.1,211.2 L726.7,211.2 L727.3,211.2 L727.9,211.1 L728.5,211.1 L729.1,211.1 L729.7,211.1 L730.3,211.0 L730.9,211.0 L731.5,211.0 L732.1,210.9 L732.7,210.8 L733.3,210.7 L733.9,210.6 L734.5,210.5 L735.1,210.4 L735.6,210.2 L736.2,210.1 L736.8,209.9 L737.3,209.7 L737.9,209.5 L738.5,209.2 L739.0,209.0 L739.6,208.7 L740.1,208.4 L740.6,208.0 L741.1,207.7 L741.6,207.3 L742.1,207.0 L742.5,206.6 L743.0,206.2 L743.4,205.8 L743.8,205.3 L744.2,204.9 L744.5,204.4 L744.9,203.9 L745.2,203.4 L745.6,202.9 L745.9,202.4 L746.2,201.9 L746.5,201.3 L746.8,200.8 L747.1,200.3 L747.3,199.7 L747.6,199.2 L747.9,198.7 L748.1,198.1 L748.4,197.6 L748.6,197.0 L748.9,196.5 L749.1,195.9 L749.3,195.4 L749.5,194.8 L749.8,194.2 L750.0,193.7 L750.2,193.1 L750.4,192.6 L750.6,192.0 L750.8,191.4 L751.0,190.9 L751.2,190.3 L751.4,189.7 L751.5,189.1 L751.7,188.6 L751.9,188.0 L752.1,187.4 L752.2,186.8 L752.3,186.2 L752.5,185.7 L752.6,185.1 L752.7,184.5 L752.8,183.9 L752.9,183.3 L753.0,182.7 L753.0,182.1 L753.1,181.5 L753.1,180.9 L753.2,180.3 L753.3,179.7 L753.3,179.1 L753.4,178.5 L753.5,177.9 L753.5,177.3 L753.6,176.7 L753.7,176.1 L753.8,175.5 L753.9,175.0 L754.0,174.4 L754.0,173.8 L754.1,173.2 L754.2,172.6 L754.3,172.0 L754.4,171.4 L754.5,170.8 L754.6,170.2 L754.7,169.6 L754.8,169.0 L754.9,168.4 L755.0,167.8 L755.1,167.2 L755.2,166.6 L755.2,166.1 L755.3,165.5 L755.4,164.9 L755.5,164.3 L755.6,163.7 L755.7,163.1 L755.7,162.5 L755.8,161.9 L755.9,161.3 L756.0,160.7 L756.0,160.1 L756.1,159.5 L756.2,158.9 L756.3,158.3 L756.3,157.7 L756.4,157.1 L756.5,156.5 L756.5,155.9 L756.6,155.3 L756.7,154.7 L756.7,154.1 L756.8,153.6 L756.9,153.0 L756.9,152.4 L757.0,151.8 L757.0,151.2 L757.1,150.6 L757.2,150.0 L757.2,149.4 L757.3,148.8 L757.3,148.2 L757.4,147.6 L757.4,147.0 L757.5,146.4 L757.5,145.8 L757.6,145.2 L757.6,144.6 L757.7,144.0 L757.7,143.4 L757.8,142.8 L757.8,142.2 L757.9,141.6 L757.9,141.0 L758.0,140.4 L758.0,139.8 L758.1,139.2 L758.1,138.6 L758.2,138.0 L758.2,137.4 L758.3,136.8 L758.3,136.2 L758.4,135.6 L758.4,135.0 L758.4,134.4 L758.5,133.8 L758.5,133.2 L758.6,132.6 L758.6,132.0 L758.7,131.4 L758.7,130.8 L758.7,130.2 L758.8,129.6 L758.8,129.0 L758.9,128.4 L758.9,127.8 L758.9,127.2 L759.0,126.6 L759.0,126.0 L759.1,125.4 L759.1,124.8 L759.2,124.2 L759.2,123.7 L759.3,123.1 L759.4,122.5 L759.4,121.9 L759.5,121.3 L759.5,120.7 L759.6,120.1 L759.7,119.5 L759.8,118.9 L759.8,118.3 L759.9,117.7 L760.0,117.1 L760.1,116.5 L760.2,115.9 L760.2,115.3 L760.3,114.7 L760.4,114.1 L760.5,113.5 L760.6,112.9 L760.6,112.3 L760.7,111.7 L760.8,111.1 L760.8,110.5 L760.9,110.0 L761.0,109.4 L761.0,108.8 L761.1,108.2 L761.1,107.6 L761.2,107.0 L761.2,106.4 L761.3,105.8 L761.3,105.2 L761.4,104.6 L761.4,104.0 L761.5,103.4 L761.5,102.8 L761.6,102.2 L761.6,101.6 L761.7,101.0 L761.7,100.4 L761.8,99.8 L761.9,99.2 L761.9,98.6 L762.0,98.0 L762.1,97.4 L762.2,96.8 L762.3,96.2 L762.4,95.6 L762.5,95.1 L762.7,94.5 L762.8,93.9 L762.9,93.3 L763.1,92.7 L763.2,92.1 L763.3,91.5 L763.5,91.0 L763.6,90.4 L763.8,89.8 L763.9,89.2 L764.0,88.6 L764.2,88.0 L764.3,87.5 L764.4,86.9 L764.6,86.3 L764.7,85.7 L764.8,85.1 L764.9,84.5 L765.1,83.9 L765.2,83.3 L765.3,82.8 L765.4,82.2 L765.5,81.6 L765.6,81.0 L765.8,80.4 L765.9,79.8 L766.0,79.2 L766.1,78.6 L766.2,78.0 L766.3,77.4 L766.4,76.9 L766.5,76.3 L766.6,75.7 L766.7,75.1 L766.8,74.5 L766.9,73.9 L767.0,73.3 L767.1,72.7 L767.1,72.1 L767.2,71.5 L767.3,70.9 L767.4,70.3 L767.5,69.7 L767.6,69.1 L767.6,68.5 L767.7,67.9 L767.8,67.4 L767.9,66.8 L768.0,66.2 L768.1,65.6 L768.2,65.0 L768.3,64.4 L768.4,63.8 L768.4,63.2 L768.5,62.6 L768.6,62.0 L768.7,61.4 L768.8,60.9 L768.8,60.3 L769.0,59.7 L769.1,59.1 L769.2,58.5 L769.3,57.9 L769.4,57.4 L769.6,56.8 L769.7,56.2 L769.9,55.6 L770.1,55.1 L770.3,54.5 L770.5,54.0 L770.7,53.4 L770.9,52.9 L771.1,52.3 L771.4,51.8 L771.6,51.3 L771.8,50.7 L772.0,50.2 L772.3,49.6 L772.4,49.1 L772.6,48.5 L772.8,47.9 L773.0,47.4 L773.1,46.8 L773.3,46.2 L773.4,45.6 L773.6,45.0 L773.7,44.4 L773.9,43.9 L774.0,43.3 L774.2,42.7 L774.3,42.1 L774.5,41.5 L774.7,41.0 L774.9,40.4 L775.1,39.8 L775.3,39.3 L775.5,38.8 L775.8,38.2 L776.1,37.7 L776.3,37.1 L776.6,36.6 L776.9,36.1 L777.2,35.6 L777.5,35.0 L777.8,34.5 L778.1,34.0 L778.3,33.4 L778.6,32.9 L778.8,32.3 L779.0,31.8 L779.3,31.2 L779.5,30.6 L779.7,30.1 L779.8,29.5 L780.0,28.9 L780.2,28.3 L780.4,27.8 L780.5,27.2 L780.7,26.6 L780.9,26.0 L781.1,25.4 L781.2,24.9 L781.4,24.3 L781.6,23.7 L781.8,23.2 L782.0,22.6 L782.2,22.0 L782.4,21.5 L782.6,21.0 L782.9,20.4 L783.1,19.9 L783.4,19.4 L783.7,18.8 L784.0,18.3 L784.3,17.8 L784.7,17.3 L785.1,16.8 L785.5,16.3 L786.0,15.8 L786.5,15.5 L786.9,15.5 L787.5,15.7 L788.0,16.1 L788.4,16.6 L788.9,17.1 L789.3,17.6 L789.6,18.1 L790.0,18.6 L790.3,19.1 L790.6,19.6 L790.9,20.2 L791.1,20.7 L791.4,21.2 L791.6,21.8 L791.8,22.3 L792.0,22.9 L792.2,23.4 L792.4,24.0 L792.6,24.5 L792.8,25.1 L793.0,25.6 L793.2,26.2 L793.3,26.8 L793.5,27.4 L793.7,27.9 L793.8,28.5 L794.0,29.1 L794.1,29.7 L794.3,30.3 L794.4,30.9 L794.6,31.4 L794.7,32.0 L794.8,32.6 L795.0,33.2 L795.1,33.8 L795.2,34.4 L795.4,35.0 L795.5,35.6 L795.6,36.2 L795.7,36.8 L795.9,37.4 L796.0,38.0 L796.1,38.6 L796.3,39.2 L796.4,39.7 L796.5,40.3 L796.6,40.9 L796.8,41.5 L796.9,42.1 L797.0,42.7 L797.1,43.3 L797.2,43.9 L797.4,44.4 L797.5,45.0 L797.6,45.6 L797.7,46.2 L797.8,46.8 L797.9,47.4 L798.0,48.0 L798.2,48.6 L798.3,49.2 L798.4,49.7 L798.6,50.3 L798.7,50.9 L798.8,51.5 L799.0,52.1 L799.1,52.7 L799.2,53.3 L799.3,53.9 L799.5,54.5 L799.6,55.1 L799.7,55.7 L799.8,56.3 L799.9,56.9 L800.0,57.4 L800.1,58.0 L800.3,58.6 L800.4,59.2 L800.5,59.8 L800.6,60.4 L800.7,61.0 L800.8,61.6 L800.9,62.2 L801.0,62.8 L801.1,63.4 L801.2,64.0 L801.3,64.6 L801.4,65.2 L801.4,65.8 L801.5,66.4 L801.6,67.0 L801.7,67.6 L801.7,68.2 L801.8,68.8 L801.9,69.4 L802.0,70.0 L802.0,70.6 L802.1,71.2 L802.2,71.7 L802.3,72.3 L802.3,72.9 L802.4,73.5 L802.5,74.1 L802.6,74.7 L802.7,75.3 L802.8,75.9 L802.8,76.5 L802.9,77.1 L803.0,77.7 L803.1,78.3 L803.2,78.9 L803.3,79.5 L803.4,80.1 L803.5,80.6 L803.6,81.2 L803.7,81.8 L803.8,82.4 L804.0,83.0 L804.1,83.6 L804.2,84.2 L804.3,84.8 L804.4,85.4 L804.6,85.9 L804.7,86.5 L804.8,87.1 L804.9,87.7 L805.1,88.3 L805.2,88.9 L805.3,89.5 L805.5,90.0 L805.6,90.6 L805.7,91.2 L805.9,91.8 L806.0,92.4 L806.1,93.0 L806.3,93.6 L806.4,94.1 L806.5,94.7 L806.7,95.3 L806.8,95.9 L806.9,96.5 L807.1,97.1 L807.2,97.7 L807.3,98.2 L807.4,98.8 L807.6,99.4 L807.7,100.0 L807.8,100.6 L807.9,101.2 L808.1,101.8 L808.2,102.3 L808.3,102.9 L808.5,103.5 L808.6,104.1 L808.7,104.7 L808.8,105.3 L809.0,105.9 L809.1,106.5 L809.2,107.0 L809.4,107.6 L809.5,108.2 L809.6,108.8 L809.8,109.4 L809.9,110.0 L810.1,110.5 L810.2,111.1 L810.4,111.7 L810.5,112.3 L810.7,112.9 L810.8,113.4 L811.0,114.0 L811.1,114.6 L811.3,115.2 L811.5,115.7 L811.7,116.3 L811.8,116.9 L812.0,117.5 L812.2,118.0 L812.4,118.6 L812.5,119.2 L812.7,119.8 L812.9,120.3 L813.0,120.9 L813.2,121.5 L813.3,122.1 L813.5,122.7 L813.6,123.3 L813.7,123.8 L813.8,124.4 L814.0,125.0 L814.1,125.6 L814.2,126.2 L814.3,126.8 L814.4,127.4 L814.5,128.0 L814.6,128.6 L814.7,129.1 L814.8,129.7 L815.0,130.3 L815.1,130.9 L815.2,131.5 L815.3,132.1 L815.4,132.7 L815.6,133.3 L815.7,133.8 L815.8,134.4 L816.0,135.0 L816.1,135.6 L816.3,136.2 L816.4,136.8 L816.6,137.3 L816.7,137.9 L816.9,138.5 L817.0,139.1 L817.2,139.7 L817.4,140.2 L817.5,140.8 L817.7,141.4 L817.9,142.0 L818.1,142.5 L818.3,143.1 L818.4,143.7 L818.6,144.3 L818.8,144.8 L819.0,145.4 L819.2,146.0 L819.4,146.5 L819.6,147.1 L819.9,147.6 L820.1,148.2 L820.3,148.8 L820.5,149.3 L820.7,149.9 L821.0,150.4 L821.2,151.0 L821.5,151.5 L821.7,152.1 L822.0,152.6 L822.2,153.2 L822.5,153.7 L822.7,154.3 L823.0,154.8 L823.3,155.3 L823.6,155.9 L823.8,156.4 L824.1,156.9 L824.4,157.4 L824.7,158.0 L825.0,158.5 L825.3,159.0 L825.6,159.5 L825.9,160.0 L826.2,160.5 L826.6,161.0 L826.9,161.5 L827.2,162.0 L827.5,162.5 L827.9,163.0 L828.2,163.5 L828.6,164.0 L828.9,164.5 L829.3,165.0 L829.6,165.5 L830.0,166.0 L830.4,166.4 L830.8,166.9 L831.1,167.4 L831.5,167.8 L831.9,168.3 L832.3,168.8 L832.7,169.2 L833.1,169.7 L833.5,170.1 L833.9,170.5 L834.3,171.0 L834.7,171.4 L835.1,171.9 L835.6,172.3 L836.0,172.7 L836.4,173.2 L836.8,173.6 L837.3,174.0 L837.7,174.4 L838.2,174.9 L838.6,175.3 L839.1,175.7 L839.6,176.0 L840.0,176.4 L840.5,176.8 L841.0,177.1 L841.5,177.5 L841.9,177.8 L842.4,178.2 L842.9,178.5 L843.4,178.8 L844.0,179.1 L844.5,179.3 L845.0,179.6 L845.5,179.9 L846.1,180.1 L846.6,180.4 L847.2,180.6 L847.7,180.9 L848.3,181.1 L848.8,181.3 L849.4,181.5 L850.0,181.8 L850.5,182.0 L851.1,182.2 L851.7,182.4 L852.2,182.6 L852.8,182.8 L853.4,183.0 L854.0,183.2 L854.5,183.4 L855.1,183.6 L855.7,183.8 L856.2,184.0 L856.8,184.2 L857.4,184.4 L858.0,184.6 L858.6,184.7 L859.1,184.8 L859.7,184.9 L860.3,184.9 L860.9,184.9 L861.5,184.9 L862.1,184.8 L862.7,184.7 L863.3,184.5 L863.9,184.3 L864.4,184.1 L864.9,183.8 L865.4,183.4 L865.9,183.0 L866.4,182.6 L866.8,182.2 L867.2,181.8 L867.5,181.3 L867.9,180.9 L868.2,180.4 L868.5,179.9 L868.8,179.4 L869.1,178.9 L869.4,178.3 L869.7,177.8 L869.9,177.2 L870.2,176.7 L870.4,176.1 L870.7,175.5 L870.9,174.9 L871.1,174.4 L871.3,173.8 L871.6,173.2 L871.8,172.6 L872.0,172.1 L872.2,171.5 L872.4,170.9 L872.6,170.4 L872.8,169.8 L873.1,169.2 L873.3,168.7 L873.5,168.1 L873.7,167.5 L873.9,167.0 L874.1,166.4 L874.3,165.8 L874.5,165.3 L874.7,164.7 L874.9,164.1 L875.1,163.6 L875.3,163.0 L875.5,162.4 L875.6,161.9 L875.8,161.3 L876.0,160.7 L876.2,160.2 L876.4,159.6 L876.6,159.0 L876.7,158.5 L876.9,157.9 L877.1,157.3 L877.3,156.7 L877.4,156.2 L877.6,155.6 L877.8,155.0 L877.9,154.4 L878.1,153.9 L878.2,153.3 L878.4,152.7 L878.6,152.1 L878.7,151.5 L878.9,151.0 L879.0,150.4 L879.2,149.8 L879.3,149.2 L879.5,148.6 L879.6,148.0 L879.8,147.5 L879.9,146.9 L880.0,146.3 L880.2,145.7 L880.3,145.1 L880.5,144.5 L880.6,144.0 L880.7,143.4 L880.9,142.8 L881.0,142.2 L881.1,141.6 L881.3,141.0 L881.4,140.5 L881.6,139.9 L881.7,139.3 L881.9,138.7 L882.1,138.1 L882.2,137.6 L882.4,137.0 L882.6,136.4 L882.8,135.8 L882.9,135.3 L883.1,134.7 L883.3,134.1 L883.5,133.6 L883.7,133.0 L883.9,132.4 L884.2,131.9 L884.4,131.3 L884.6,130.8 L884.8,130.2 L885.1,129.7 L885.3,129.1 L885.6,128.6 L885.9,128.1 L886.1,127.5 L886.4,127.0 L886.7,126.5 L887.0,125.9 L887.3,125.4 L887.5,124.8 L887.8,124.3 L888.1,123.8 L888.3,123.2 L888.5,122.7 L888.8,122.1 L889.0,121.6 L889.2,121.0 L889.4,120.4 L889.6,119.9 L889.8,119.3 L890.0,118.8 L890.2,118.2 L890.5,117.6 L890.7,117.1 L890.9,116.5 L891.1,115.9 L891.3,115.4 L891.5,114.8 L891.7,114.3 L892.0,113.7 L892.2,113.1 L892.4,112.6 L892.6,112.0 L892.8,111.5 L893.1,110.9 L893.3,110.3 L893.5,109.8 L893.7,109.2 L893.9,108.7 L894.1,108.1 L894.3,107.5 L894.5,107.0 L894.7,106.4 L894.9,105.8 L895.1,105.2 L895.3,104.7 L895.5,104.1 L895.7,103.6 L895.9,103.0 L896.1,102.4 L896.4,101.9 L896.6,101.3 L896.8,100.8 L897.0,100.2 L897.3,99.7 L897.5,99.1 L897.8,98.6 L898.1,98.1 L898.3,97.5 L898.6,97.0 L898.9,96.5 L899.3,95.9 L899.6,95.5 L900.0,95.0 L900.4,94.5 L900.8,94.1 L901.3,93.6 L901.8,93.2 L902.3,92.9 L902.8,92.6 L903.4,92.5 L903.9,92.5 L904.5,92.6 L905.1,92.8 L905.7,93.1 L906.2,93.4 L906.7,93.7 L907.2,94.1 L907.6,94.5 L908.0,95.0 L908.4,95.5 L908.7,96.0 L909.1,96.5 L909.4,97.0 L909.7,97.5 L909.9,98.1 L910.2,98.6 L910.5,99.1 L910.7,99.7 L910.9,100.2 L911.1,100.8 L911.4,101.3 L911.6,101.9 L911.8,102.5 L912.0,103.0 L912.2,103.6 L912.3,104.2 L912.5,104.8 L912.7,105.3 L912.9,105.9 L913.1,106.5 L913.3,107.1 L913.4,107.6 L913.6,108.2 L913.8,108.8 L914.0,109.4 L914.2,109.9 L914.4,110.5 L914.5,111.1 L914.7,111.7 L914.9,112.2 L915.1,112.8 L915.3,113.4 L915.5,113.9 L915.6,114.5 L915.8,115.1 L916.0,115.6 L916.2,116.2 L916.4,116.8 L916.6,117.3 L916.8,117.9 L917.0,118.5 L917.3,119.0 L917.5,119.6 L917.7,120.1 L918.0,120.7 L918.2,121.2 L918.4,121.8 L918.7,122.3 L918.9,122.9 L919.1,123.5 L919.3,124.0 L919.5,124.6 L919.6,125.2 L919.8,125.7 L920.0,126.3 L920.2,126.9 L920.4,127.5 L920.5,128.0 L920.7,128.6 L920.8,129.2 L921.0,129.8 L921.2,130.4 L921.3,130.9 L921.5,131.5 L921.6,132.1 L921.8,132.7 L921.9,133.3 L922.1,133.8 L922.2,134.4 L922.4,135.0 L922.6,135.6 L922.7,136.2 L922.9,136.7 L923.0,137.3 L923.2,137.9 L923.4,138.5 L923.5,139.1 L923.7,139.6 L923.8,140.2 L924.0,140.8 L924.2,141.4 L924.3,141.9 L924.5,142.5 L924.6,143.1 L924.8,143.7 L925.0,144.3 L925.1,144.8 L925.3,145.4 L925.5,146.0 L925.6,146.6 L925.8,147.1 L926.0,147.7 L926.2,148.3 L926.3,148.9 L926.5,149.4 L926.7,150.0 L926.9,150.6 L927.1,151.1 L927.2,151.7 L927.4,152.3 L927.6,152.9 L927.8,153.4 L928.0,154.0 L928.2,154.6 L928.4,155.1 L928.6,155.7 L928.8,156.3 L929.0,156.8 L929.2,157.4 L929.4,158.0 L929.6,158.5 L929.8,159.1 L930.0,159.7 L930.2,160.2 L930.5,160.8 L930.7,161.3 L930.9,161.9 L931.2,162.4 L931.4,163.0 L931.7,163.5 L931.9,164.1 L932.2,164.6 L932.5,165.1 L932.8,165.7 L933.0,166.2 L933.3,166.7 L933.7,167.2 L934.0,167.7 L934.3,168.3 L934.6,168.7 L935.0,169.2 L935.4,169.7 L935.7,170.2 L936.1,170.6 L936.5,171.1 L936.9,171.5 L937.4,171.9 L937.8,172.3 L938.2,172.8 L938.7,173.2 L939.1,173.6 L939.6,173.9 L940.1,174.3 L940.5,174.7 L941.0,175.1 L941.5,175.4 L942.0,175.8 L942.4,176.2 L942.9,176.5 L943.4,176.8 L943.9,177.2 L944.5,177.5 L945.0,177.8 L945.5,178.1 L946.0,178.4 L946.5,178.7 L947.1,179.0 L947.6,179.2 L948.1,179.5 L948.7,179.8 L949.2,180.0 L949.8,180.3 L950.3,180.5 L950.9,180.8 L951.4,181.0 L952.0,181.2 L952.6,181.4 L953.1,181.6 L953.7,181.8 L954.3,182.0 L954.9,182.2 L955.4,182.4 L956.0,182.5 L956.6,182.7 L957.2,182.8 L957.8,182.9 L958.4,183.0 L958.9,183.1 L959.5,183.2 L960.1,183.3 L960.7,183.4 L961.3,183.4 L961.9,183.5 L962.5,183.6 L963.1,183.6 L963.7,183.7 L964.3,183.7 L964.9,183.8 L965.5,183.8 L966.1,183.8 L966.7,183.9 L967.3,183.9 L967.9,183.9 L968.5,184.0 L969.1,184.0 L969.7,184.0 L970.3,184.0 L970.9,184.1 L971.5,184.1 L972.1,184.1 L972.7,184.1 L973.3,184.1 L973.9,184.2 L974.5,184.2 L975.1,184.2 L975.7,184.2 L976.3,184.3 L976.9,184.3 L977.5,184.3 L978.1,184.3 L978.7,184.4 L979.3,184.4 L979.9,184.5 L980.5,184.5 L981.1,184.5 L981.7,184.6 L982.3,184.6 L982.9,184.6 L983.5,184.7 L984.1,184.7 L984.7,184.8 L985.3,184.8 L985.9,184.9 L986.5,184.9 L987.1,184.9 L987.7,185.0 L988.3,185.0 L988.9,185.1 L989.5,185.1 L990.1,185.2 L990.7,185.2 L991.3,185.3 L991.9,185.3 L992.5,185.3 L993.1,185.4 L993.7,185.4 L994.3,185.5 L994.9,185.5 L995.5,185.6 L996.1,185.6 L996.7,185.6 L997.3,185.7 L997.9,185.7 L998.5,185.8 L999.1,185.8 L999.7,185.8 L1000.3,185.9 L1000.9,185.9 L1001.4,186.0 L1002.0,186.0 L1002.6,186.0 L1003.2,186.1 L1003.8,186.1 L1004.4,186.1 L1005.0,186.2 L1005.6,186.2 L1006.2,186.2 L1006.8,186.3 L1007.4,186.3 L1008.0,186.4 L1008.6,186.4 L1009.2,186.4 L1009.8,186.5 L1010.4,186.5 L1011.0,186.5 L1011.6,186.6 L1012.2,186.6 L1012.8,186.6 L1013.4,186.7 L1014.0,186.7 L1014.6,186.7 L1015.2,186.8 L1015.8,186.8 L1016.4,186.8 L1017.0,186.9 L1017.6,186.9 L1018.2,186.9 L1018.8,186.9 L1019.4,187.0 L1020.0,187.0 L1020.6,187.0 L1021.0,187.1 L1021.0,187.1 L1021.0,187.1" stroke="#1b79c2" stroke-width="1.45"/>
</g>
<line x1="715.0" x2="1021.0" y1="211.8" y2="211.8" stroke="#000" stroke-width="1.6"/>
<path d="M725.93,226.4v-3.5M725.93,3.6v3.5M736.86,226.4v-3.5M736.86,3.6v3.5M747.79,226.4v-3.5M747.79,3.6v3.5M758.71,226.4v-5.5M758.71,3.6v5.5M769.64,226.4v-3.5M769.64,3.6v3.5M780.57,226.4v-3.5M780.57,3.6v3.5M791.50,226.4v-3.5M791.50,3.6v3.5M802.43,226.4v-3.5M802.43,3.6v3.5M813.36,226.4v-5.5M813.36,3.6v5.5M824.29,226.4v-3.5M824.29,3.6v3.5M835.21,226.4v-3.5M835.21,3.6v3.5M846.14,226.4v-3.5M846.14,3.6v3.5M857.07,226.4v-3.5M857.07,3.6v3.5M868.00,226.4v-5.5M868.00,3.6v5.5M878.93,226.4v-3.5M878.93,3.6v3.5M889.86,226.4v-3.5M889.86,3.6v3.5M900.79,226.4v-3.5M900.79,3.6v3.5M911.71,226.4v-3.5M911.71,3.6v3.5M922.64,226.4v-5.5M922.64,3.6v5.5M933.57,226.4v-3.5M933.57,3.6v3.5M944.50,226.4v-3.5M944.50,3.6v3.5M955.43,226.4v-3.5M955.43,3.6v3.5M966.36,226.4v-3.5M966.36,3.6v3.5M977.29,226.4v-5.5M977.29,3.6v5.5M988.21,226.4v-3.5M988.21,3.6v3.5M999.14,226.4v-3.5M999.14,3.6v3.5M1010.07,226.4v-3.5M1010.07,3.6v3.5M715.0,211.80h5.5M1021.0,211.80h-5.5M715.0,187.00h3.5M1021.0,187.00h-3.5M715.0,162.20h5.5M1021.0,162.20h-5.5M715.0,137.40h3.5M1021.0,137.40h-3.5M715.0,112.60h5.5M1021.0,112.60h-5.5M715.0,87.80h3.5M1021.0,87.80h-3.5M715.0,63.00h5.5M1021.0,63.00h-5.5M715.0,38.20h3.5M1021.0,38.20h-3.5M715.0,13.40h5.5M1021.0,13.40h-5.5" stroke="#000" stroke-width="1.35" fill="none"/>
<rect x="715.0" y="3.6" width="306.0" height="222.8" fill="none" stroke="#000" stroke-width="2.0"/>
<text x="758.7" y="242.1" font-size="12.4" text-anchor="middle" textLength="21.2" lengthAdjust="spacingAndGlyphs">640</text>
<text x="813.4" y="242.1" font-size="12.4" text-anchor="middle" textLength="21.2" lengthAdjust="spacingAndGlyphs">645</text>
<text x="868.0" y="242.1" font-size="12.4" text-anchor="middle" textLength="21.2" lengthAdjust="spacingAndGlyphs">650</text>
<text x="922.6" y="242.1" font-size="12.4" text-anchor="middle" textLength="21.2" lengthAdjust="spacingAndGlyphs">655</text>
<text x="977.3" y="242.1" font-size="12.4" text-anchor="middle" textLength="21.2" lengthAdjust="spacingAndGlyphs">660</text>
<text x="709.6" y="214.8" font-size="13.3" text-anchor="end" textLength="7.2" lengthAdjust="spacingAndGlyphs">0</text>
<text x="709.6" y="165.2" font-size="13.3" text-anchor="end" textLength="7.2" lengthAdjust="spacingAndGlyphs">2</text>
<text x="709.6" y="115.6" font-size="13.3" text-anchor="end" textLength="7.2" lengthAdjust="spacingAndGlyphs">4</text>
<text x="709.6" y="66.0" font-size="13.3" text-anchor="end" textLength="7.2" lengthAdjust="spacingAndGlyphs">6</text>
<text x="709.6" y="16.4" font-size="13.3" text-anchor="end" textLength="7.2" lengthAdjust="spacingAndGlyphs">8</text>
<text x="868.0" y="256.4" font-size="13.1" text-anchor="middle" textLength="127.8" lengthAdjust="spacingAndGlyphs">Excitation Energy (eV)</text>
<text transform="translate(695.8,114.6) rotate(-90)" font-size="13.6" text-anchor="middle" textLength="66.3" lengthAdjust="spacingAndGlyphs">TEY (norm.)</text>
<text y="29.2" font-size="21.4" fill="#e41a1c"><tspan x="940.5" textLength="9.9" lengthAdjust="spacingAndGlyphs" stroke="#e41a1c" stroke-width="0.45">x</tspan><tspan x="951.1" dy="4.9" font-size="14.4" textLength="15.7" lengthAdjust="spacingAndGlyphs">Ca</tspan><tspan x="966.8" dy="-4.9" textLength="41.5" lengthAdjust="spacingAndGlyphs">=0.5</tspan></text>
<text x="815.8" y="55.0" font-size="21.4" fill="#1f78c1" textLength="178.2" lengthAdjust="spacingAndGlyphs">0.6 × I<tspan font-size="14.4" dy="4.9">0.3</tspan><tspan dy="-4.9"> + 0.4 × I</tspan><tspan font-size="14.4" dy="4.9">0.8</tspan></text>
</g>
</svg></body></html>
